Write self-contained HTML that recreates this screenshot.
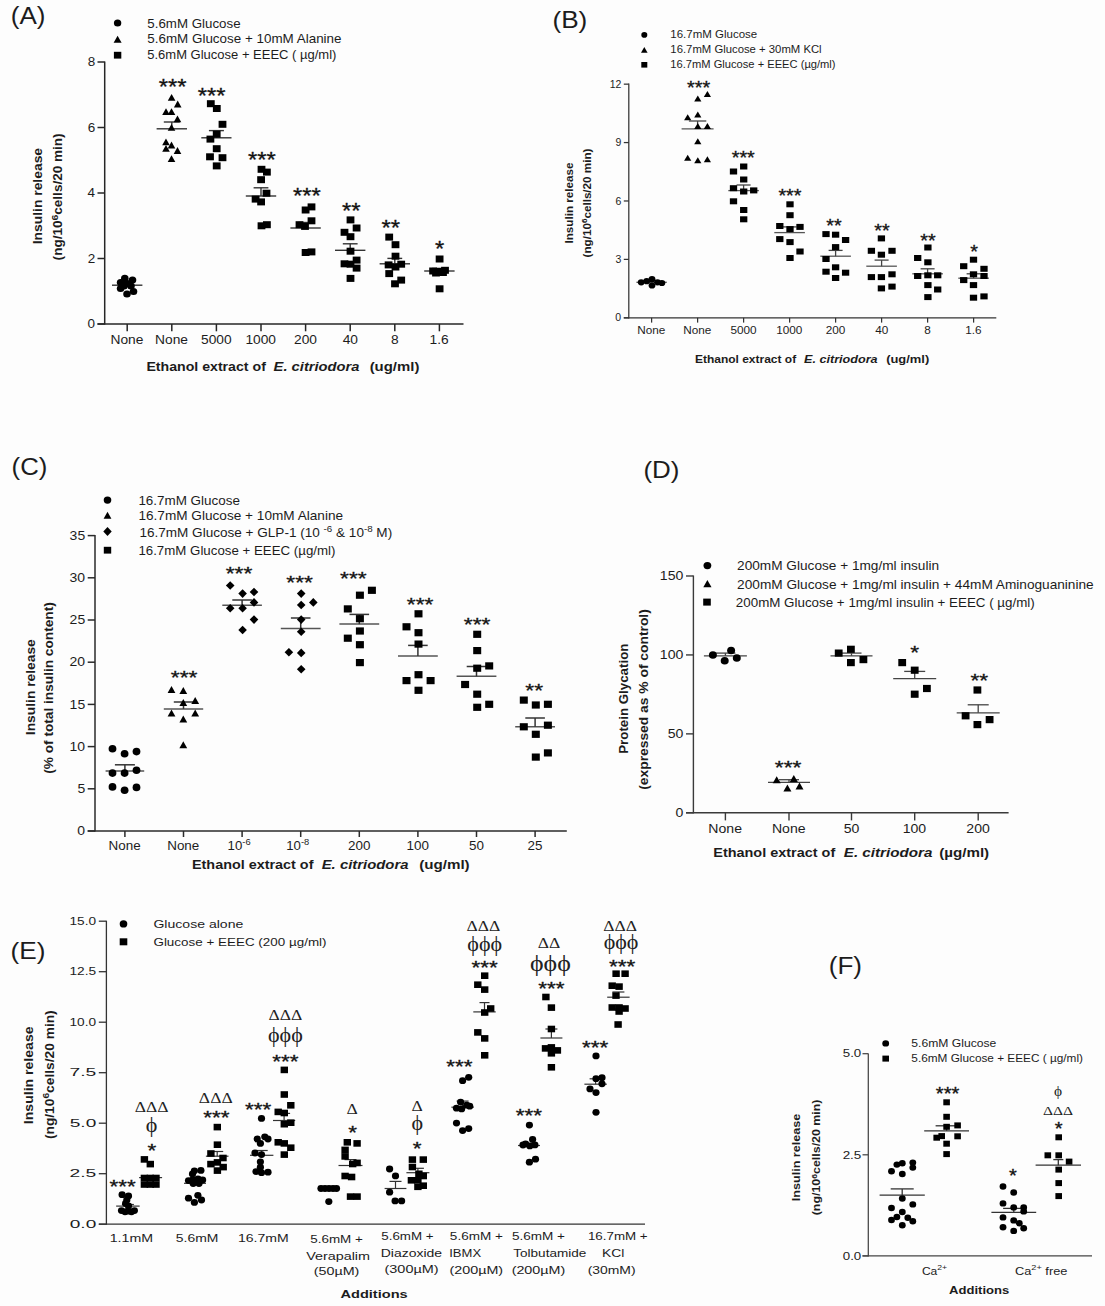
<!DOCTYPE html>
<html><head><meta charset="utf-8"><style>
html,body{margin:0;padding:0;background:#fdfdfd;}
svg{display:block;}
</style></head><body>
<svg width="1105" height="1306" viewBox="0 0 1105 1306">
<rect width="1105" height="1306" fill="#fdfdfd"/>
<line x1="112.00" y1="285.20" x2="142.40" y2="285.20" stroke="#333" stroke-width="1.4"/>
<line x1="127.20" y1="285.20" x2="127.20" y2="284.20" stroke="#333" stroke-width="1.4"/>
<line x1="120.20" y1="284.20" x2="134.20" y2="284.20" stroke="#333" stroke-width="1.4"/>
<line x1="156.60" y1="128.80" x2="187.00" y2="128.80" stroke="#333" stroke-width="1.4"/>
<line x1="171.80" y1="128.80" x2="171.80" y2="122.00" stroke="#333" stroke-width="1.4"/>
<line x1="163.80" y1="122.00" x2="179.80" y2="122.00" stroke="#333" stroke-width="1.4"/>
<line x1="201.30" y1="137.80" x2="231.50" y2="137.80" stroke="#333" stroke-width="1.4"/>
<line x1="216.40" y1="137.80" x2="216.40" y2="130.60" stroke="#333" stroke-width="1.4"/>
<line x1="208.90" y1="130.60" x2="223.90" y2="130.60" stroke="#333" stroke-width="1.4"/>
<line x1="245.80" y1="196.00" x2="276.20" y2="196.00" stroke="#333" stroke-width="1.4"/>
<line x1="261.00" y1="196.00" x2="261.00" y2="187.80" stroke="#333" stroke-width="1.4"/>
<line x1="253.60" y1="187.80" x2="268.40" y2="187.80" stroke="#333" stroke-width="1.4"/>
<line x1="290.40" y1="228.00" x2="320.80" y2="228.00" stroke="#333" stroke-width="1.4"/>
<line x1="305.60" y1="228.00" x2="305.60" y2="222.50" stroke="#333" stroke-width="1.4"/>
<line x1="298.20" y1="222.50" x2="313.00" y2="222.50" stroke="#333" stroke-width="1.4"/>
<line x1="335.00" y1="250.30" x2="365.40" y2="250.30" stroke="#333" stroke-width="1.4"/>
<line x1="350.20" y1="250.30" x2="350.20" y2="243.80" stroke="#333" stroke-width="1.4"/>
<line x1="342.80" y1="243.80" x2="357.60" y2="243.80" stroke="#333" stroke-width="1.4"/>
<line x1="379.60" y1="263.80" x2="410.00" y2="263.80" stroke="#333" stroke-width="1.4"/>
<line x1="394.80" y1="263.80" x2="394.80" y2="258.40" stroke="#333" stroke-width="1.4"/>
<line x1="387.40" y1="258.40" x2="402.20" y2="258.40" stroke="#333" stroke-width="1.4"/>
<line x1="424.20" y1="271.00" x2="454.60" y2="271.00" stroke="#333" stroke-width="1.4"/>
<line x1="439.40" y1="271.00" x2="439.40" y2="268.50" stroke="#333" stroke-width="1.4"/>
<line x1="432.00" y1="268.50" x2="446.80" y2="268.50" stroke="#333" stroke-width="1.4"/>
<line x1="636.40" y1="282.30" x2="666.80" y2="282.30" stroke="#555" stroke-width="1.3"/>
<line x1="681.60" y1="128.90" x2="713.60" y2="128.90" stroke="#555" stroke-width="1.3"/>
<line x1="697.60" y1="128.90" x2="697.60" y2="121.00" stroke="#444" stroke-width="1.3"/>
<line x1="688.90" y1="121.00" x2="706.30" y2="121.00" stroke="#444" stroke-width="1.3"/>
<line x1="728.30" y1="190.60" x2="758.90" y2="190.60" stroke="#555" stroke-width="1.3"/>
<line x1="743.60" y1="190.60" x2="743.60" y2="185.00" stroke="#444" stroke-width="1.3"/>
<line x1="736.60" y1="185.00" x2="750.60" y2="185.00" stroke="#444" stroke-width="1.3"/>
<line x1="774.30" y1="232.60" x2="804.90" y2="232.60" stroke="#555" stroke-width="1.3"/>
<line x1="789.60" y1="232.60" x2="789.60" y2="226.90" stroke="#444" stroke-width="1.3"/>
<line x1="782.60" y1="226.90" x2="796.60" y2="226.90" stroke="#444" stroke-width="1.3"/>
<line x1="820.30" y1="256.20" x2="850.90" y2="256.20" stroke="#555" stroke-width="1.3"/>
<line x1="835.60" y1="256.20" x2="835.60" y2="250.40" stroke="#444" stroke-width="1.3"/>
<line x1="828.60" y1="250.40" x2="842.60" y2="250.40" stroke="#444" stroke-width="1.3"/>
<line x1="866.30" y1="266.20" x2="896.90" y2="266.20" stroke="#555" stroke-width="1.3"/>
<line x1="881.60" y1="266.20" x2="881.60" y2="260.10" stroke="#444" stroke-width="1.3"/>
<line x1="874.60" y1="260.10" x2="888.60" y2="260.10" stroke="#444" stroke-width="1.3"/>
<line x1="912.30" y1="273.80" x2="942.90" y2="273.80" stroke="#555" stroke-width="1.3"/>
<line x1="927.60" y1="273.80" x2="927.60" y2="268.80" stroke="#444" stroke-width="1.3"/>
<line x1="920.60" y1="268.80" x2="934.60" y2="268.80" stroke="#444" stroke-width="1.3"/>
<line x1="958.30" y1="278.20" x2="988.90" y2="278.20" stroke="#555" stroke-width="1.3"/>
<line x1="973.60" y1="278.20" x2="973.60" y2="273.80" stroke="#444" stroke-width="1.3"/>
<line x1="966.60" y1="273.80" x2="980.60" y2="273.80" stroke="#444" stroke-width="1.3"/>
<line x1="105.60" y1="770.90" x2="144.20" y2="770.90" stroke="#555" stroke-width="1.5"/>
<line x1="124.90" y1="770.90" x2="124.90" y2="764.80" stroke="#333" stroke-width="1.5"/>
<line x1="114.90" y1="764.80" x2="134.90" y2="764.80" stroke="#333" stroke-width="1.5"/>
<line x1="163.80" y1="708.90" x2="203.20" y2="708.90" stroke="#555" stroke-width="1.5"/>
<line x1="183.50" y1="708.90" x2="183.50" y2="702.00" stroke="#333" stroke-width="1.5"/>
<line x1="173.80" y1="702.00" x2="193.20" y2="702.00" stroke="#333" stroke-width="1.5"/>
<line x1="222.30" y1="605.20" x2="261.90" y2="605.20" stroke="#555" stroke-width="1.5"/>
<line x1="242.10" y1="605.20" x2="242.10" y2="600.00" stroke="#333" stroke-width="1.5"/>
<line x1="232.30" y1="600.00" x2="251.90" y2="600.00" stroke="#333" stroke-width="1.5"/>
<line x1="280.80" y1="628.40" x2="320.60" y2="628.40" stroke="#555" stroke-width="1.5"/>
<line x1="300.70" y1="628.40" x2="300.70" y2="618.00" stroke="#333" stroke-width="1.5"/>
<line x1="290.90" y1="618.00" x2="310.50" y2="618.00" stroke="#333" stroke-width="1.5"/>
<line x1="339.40" y1="624.10" x2="379.20" y2="624.10" stroke="#555" stroke-width="1.5"/>
<line x1="359.30" y1="624.10" x2="359.30" y2="614.40" stroke="#333" stroke-width="1.5"/>
<line x1="349.50" y1="614.40" x2="369.10" y2="614.40" stroke="#333" stroke-width="1.5"/>
<line x1="398.00" y1="656.10" x2="437.80" y2="656.10" stroke="#555" stroke-width="1.5"/>
<line x1="417.90" y1="656.10" x2="417.90" y2="645.40" stroke="#333" stroke-width="1.5"/>
<line x1="408.10" y1="645.40" x2="427.70" y2="645.40" stroke="#333" stroke-width="1.5"/>
<line x1="456.60" y1="676.30" x2="496.40" y2="676.30" stroke="#555" stroke-width="1.5"/>
<line x1="476.50" y1="676.30" x2="476.50" y2="666.50" stroke="#333" stroke-width="1.5"/>
<line x1="466.70" y1="666.50" x2="486.30" y2="666.50" stroke="#333" stroke-width="1.5"/>
<line x1="515.20" y1="726.80" x2="555.00" y2="726.80" stroke="#555" stroke-width="1.5"/>
<line x1="535.10" y1="726.80" x2="535.10" y2="718.00" stroke="#333" stroke-width="1.5"/>
<line x1="525.30" y1="718.00" x2="544.90" y2="718.00" stroke="#333" stroke-width="1.5"/>
<line x1="703.90" y1="655.80" x2="746.90" y2="655.80" stroke="#444" stroke-width="1.3"/>
<line x1="725.40" y1="655.80" x2="725.40" y2="653.10" stroke="#444" stroke-width="1.3"/>
<line x1="715.40" y1="653.10" x2="735.40" y2="653.10" stroke="#444" stroke-width="1.3"/>
<line x1="768.00" y1="782.30" x2="810.00" y2="782.30" stroke="#444" stroke-width="1.3"/>
<line x1="789.00" y1="782.30" x2="789.00" y2="779.70" stroke="#444" stroke-width="1.3"/>
<line x1="779.00" y1="779.70" x2="799.00" y2="779.70" stroke="#444" stroke-width="1.3"/>
<line x1="830.50" y1="655.80" x2="872.50" y2="655.80" stroke="#444" stroke-width="1.3"/>
<line x1="851.50" y1="655.80" x2="851.50" y2="653.10" stroke="#444" stroke-width="1.3"/>
<line x1="841.50" y1="653.10" x2="861.50" y2="653.10" stroke="#444" stroke-width="1.3"/>
<line x1="893.20" y1="678.60" x2="936.20" y2="678.60" stroke="#444" stroke-width="1.3"/>
<line x1="914.70" y1="678.60" x2="914.70" y2="671.40" stroke="#444" stroke-width="1.3"/>
<line x1="904.20" y1="671.40" x2="925.20" y2="671.40" stroke="#444" stroke-width="1.3"/>
<line x1="956.70" y1="712.80" x2="999.70" y2="712.80" stroke="#444" stroke-width="1.3"/>
<line x1="978.20" y1="712.80" x2="978.20" y2="704.80" stroke="#444" stroke-width="1.3"/>
<line x1="967.70" y1="704.80" x2="988.70" y2="704.80" stroke="#444" stroke-width="1.3"/>
<line x1="116.15" y1="1206.10" x2="139.65" y2="1206.10" stroke="#333" stroke-width="1.2"/>
<line x1="127.90" y1="1206.10" x2="127.90" y2="1204.50" stroke="#333" stroke-width="1.2"/>
<line x1="121.90" y1="1204.50" x2="133.90" y2="1204.50" stroke="#333" stroke-width="1.2"/>
<line x1="139.10" y1="1177.60" x2="162.10" y2="1177.60" stroke="#333" stroke-width="1.2"/>
<line x1="150.60" y1="1177.60" x2="150.60" y2="1176.00" stroke="#333" stroke-width="1.2"/>
<line x1="144.60" y1="1176.00" x2="156.60" y2="1176.00" stroke="#333" stroke-width="1.2"/>
<line x1="184.00" y1="1183.30" x2="206.00" y2="1183.30" stroke="#333" stroke-width="1.2"/>
<line x1="205.90" y1="1156.20" x2="228.50" y2="1156.20" stroke="#333" stroke-width="1.2"/>
<line x1="217.20" y1="1156.20" x2="217.20" y2="1151.50" stroke="#333" stroke-width="1.2"/>
<line x1="211.20" y1="1151.50" x2="223.20" y2="1151.50" stroke="#333" stroke-width="1.2"/>
<line x1="250.00" y1="1155.30" x2="273.40" y2="1155.30" stroke="#333" stroke-width="1.2"/>
<line x1="261.70" y1="1155.30" x2="261.70" y2="1150.50" stroke="#333" stroke-width="1.2"/>
<line x1="255.70" y1="1150.50" x2="267.70" y2="1150.50" stroke="#333" stroke-width="1.2"/>
<line x1="273.00" y1="1120.50" x2="295.20" y2="1120.50" stroke="#333" stroke-width="1.2"/>
<line x1="284.10" y1="1120.50" x2="284.10" y2="1113.40" stroke="#333" stroke-width="1.2"/>
<line x1="278.10" y1="1113.40" x2="290.10" y2="1113.40" stroke="#333" stroke-width="1.2"/>
<line x1="317.90" y1="1188.50" x2="339.70" y2="1188.50" stroke="#333" stroke-width="1.2"/>
<line x1="338.50" y1="1165.50" x2="362.50" y2="1165.50" stroke="#333" stroke-width="1.2"/>
<line x1="350.50" y1="1165.50" x2="350.50" y2="1159.60" stroke="#333" stroke-width="1.2"/>
<line x1="344.50" y1="1159.60" x2="356.50" y2="1159.60" stroke="#333" stroke-width="1.2"/>
<line x1="384.60" y1="1188.50" x2="406.40" y2="1188.50" stroke="#333" stroke-width="1.2"/>
<line x1="395.50" y1="1188.50" x2="395.50" y2="1181.40" stroke="#333" stroke-width="1.2"/>
<line x1="389.50" y1="1181.40" x2="401.50" y2="1181.40" stroke="#333" stroke-width="1.2"/>
<line x1="406.40" y1="1172.70" x2="429.40" y2="1172.70" stroke="#333" stroke-width="1.2"/>
<line x1="417.90" y1="1172.70" x2="417.90" y2="1168.30" stroke="#333" stroke-width="1.2"/>
<line x1="411.90" y1="1168.30" x2="423.90" y2="1168.30" stroke="#333" stroke-width="1.2"/>
<line x1="451.40" y1="1107.20" x2="473.80" y2="1107.20" stroke="#333" stroke-width="1.2"/>
<line x1="462.60" y1="1107.20" x2="462.60" y2="1101.10" stroke="#333" stroke-width="1.2"/>
<line x1="456.60" y1="1101.10" x2="468.60" y2="1101.10" stroke="#333" stroke-width="1.2"/>
<line x1="473.30" y1="1011.90" x2="495.70" y2="1011.90" stroke="#333" stroke-width="1.2"/>
<line x1="484.50" y1="1011.90" x2="484.50" y2="1002.60" stroke="#333" stroke-width="1.2"/>
<line x1="479.50" y1="1002.60" x2="489.50" y2="1002.60" stroke="#333" stroke-width="1.2"/>
<line x1="518.00" y1="1145.50" x2="540.00" y2="1145.50" stroke="#333" stroke-width="1.2"/>
<line x1="540.40" y1="1038.00" x2="562.40" y2="1038.00" stroke="#333" stroke-width="1.2"/>
<line x1="551.40" y1="1038.00" x2="551.40" y2="1029.00" stroke="#333" stroke-width="1.2"/>
<line x1="545.40" y1="1029.00" x2="557.40" y2="1029.00" stroke="#333" stroke-width="1.2"/>
<line x1="584.40" y1="1084.20" x2="606.80" y2="1084.20" stroke="#333" stroke-width="1.2"/>
<line x1="595.60" y1="1084.20" x2="595.60" y2="1078.80" stroke="#333" stroke-width="1.2"/>
<line x1="589.60" y1="1078.80" x2="601.60" y2="1078.80" stroke="#333" stroke-width="1.2"/>
<line x1="607.20" y1="997.20" x2="629.60" y2="997.20" stroke="#333" stroke-width="1.2"/>
<line x1="618.40" y1="997.20" x2="618.40" y2="992.00" stroke="#333" stroke-width="1.2"/>
<line x1="612.40" y1="992.00" x2="624.40" y2="992.00" stroke="#333" stroke-width="1.2"/>
<line x1="879.60" y1="1195.10" x2="924.80" y2="1195.10" stroke="#333" stroke-width="1.3"/>
<line x1="902.20" y1="1195.10" x2="902.20" y2="1188.90" stroke="#333" stroke-width="1.3"/>
<line x1="890.70" y1="1188.90" x2="913.70" y2="1188.90" stroke="#333" stroke-width="1.3"/>
<line x1="924.20" y1="1130.80" x2="969.00" y2="1130.80" stroke="#333" stroke-width="1.3"/>
<line x1="946.60" y1="1130.80" x2="946.60" y2="1125.80" stroke="#333" stroke-width="1.3"/>
<line x1="935.60" y1="1125.80" x2="957.60" y2="1125.80" stroke="#333" stroke-width="1.3"/>
<line x1="991.40" y1="1212.40" x2="1036.20" y2="1212.40" stroke="#333" stroke-width="1.3"/>
<line x1="1013.80" y1="1212.40" x2="1013.80" y2="1208.40" stroke="#333" stroke-width="1.3"/>
<line x1="1003.10" y1="1208.40" x2="1024.50" y2="1208.40" stroke="#333" stroke-width="1.3"/>
<line x1="1035.60" y1="1165.20" x2="1081.00" y2="1165.20" stroke="#333" stroke-width="1.3"/>
<line x1="1058.30" y1="1165.20" x2="1058.30" y2="1159.60" stroke="#333" stroke-width="1.3"/>
<line x1="1053.30" y1="1159.60" x2="1063.30" y2="1159.60" stroke="#333" stroke-width="1.3"/>
<text transform="translate(10.74,23.90) scale(1.1319,1)" style="font-family:'Liberation Sans', sans-serif;font-size:23px;" fill="#1c1c1c">(A)</text>
<ellipse cx="117.60" cy="22.90" rx="3.7" ry="3.5" fill="#000"/>
<path d="M117.60,35.70L121.60,42.70L113.60,42.70Z" fill="#000"/>
<rect x="113.90" y="51.80" width="7.4" height="6.8" fill="#000"/>
<text transform="translate(147.27,27.60) scale(1.1111,1)" style="font-family:'Liberation Sans', sans-serif;font-size:12px;" fill="#1c1c1c">5.6mM Glucose</text>
<text transform="translate(147.26,43.40) scale(1.1196,1)" style="font-family:'Liberation Sans', sans-serif;font-size:12px;" fill="#1c1c1c">5.6mM Glucose + 10mM Alanine</text>
<text transform="translate(147.28,59.40) scale(1.0842,1)" style="font-family:'Liberation Sans', sans-serif;font-size:12px;" fill="#1c1c1c">5.6mM Glucose + EEEC ( µg/ml)</text>
<line x1="104.70" y1="61.50" x2="104.70" y2="324.60" stroke="#262626" stroke-width="1.5"/>
<line x1="97.50" y1="324.00" x2="463.50" y2="324.00" stroke="#262626" stroke-width="1.5"/>
<line x1="97.50" y1="324.00" x2="104.70" y2="324.00" stroke="#262626" stroke-width="1.5"/>
<text transform="translate(87.58,328.00) scale(1.0800,1)" style="font-family:'Liberation Sans', sans-serif;font-size:12.5px;" fill="#1c1c1c">0</text>
<line x1="97.50" y1="258.50" x2="104.70" y2="258.50" stroke="#262626" stroke-width="1.5"/>
<text transform="translate(87.78,262.50) scale(1.0800,1)" style="font-family:'Liberation Sans', sans-serif;font-size:12.5px;" fill="#1c1c1c">2</text>
<line x1="97.50" y1="193.00" x2="104.70" y2="193.00" stroke="#262626" stroke-width="1.5"/>
<text transform="translate(87.51,197.00) scale(1.0800,1)" style="font-family:'Liberation Sans', sans-serif;font-size:12.5px;" fill="#1c1c1c">4</text>
<line x1="97.50" y1="127.50" x2="104.70" y2="127.50" stroke="#262626" stroke-width="1.5"/>
<text transform="translate(87.65,131.50) scale(1.0800,1)" style="font-family:'Liberation Sans', sans-serif;font-size:12.5px;" fill="#1c1c1c">6</text>
<line x1="97.50" y1="62.00" x2="104.70" y2="62.00" stroke="#262626" stroke-width="1.5"/>
<text transform="translate(87.65,66.00) scale(1.0800,1)" style="font-family:'Liberation Sans', sans-serif;font-size:12.5px;" fill="#1c1c1c">8</text>
<line x1="127.20" y1="324.00" x2="127.20" y2="331.30" stroke="#262626" stroke-width="1.5"/>
<text transform="translate(110.48,344.20) scale(1.1300,1)" style="font-family:'Liberation Sans', sans-serif;font-size:12.2px;" fill="#1c1c1c">None</text>
<line x1="171.80" y1="324.00" x2="171.80" y2="331.30" stroke="#262626" stroke-width="1.5"/>
<text transform="translate(155.08,344.20) scale(1.1300,1)" style="font-family:'Liberation Sans', sans-serif;font-size:12.2px;" fill="#1c1c1c">None</text>
<line x1="216.40" y1="324.00" x2="216.40" y2="331.30" stroke="#262626" stroke-width="1.5"/>
<text transform="translate(201.03,344.20) scale(1.1300,1)" style="font-family:'Liberation Sans', sans-serif;font-size:12.2px;" fill="#1c1c1c">5000</text>
<line x1="261.00" y1="324.00" x2="261.00" y2="331.30" stroke="#262626" stroke-width="1.5"/>
<text transform="translate(245.39,344.20) scale(1.1300,1)" style="font-family:'Liberation Sans', sans-serif;font-size:12.2px;" fill="#1c1c1c">1000</text>
<line x1="305.60" y1="324.00" x2="305.60" y2="331.30" stroke="#262626" stroke-width="1.5"/>
<text transform="translate(294.02,344.20) scale(1.1300,1)" style="font-family:'Liberation Sans', sans-serif;font-size:12.2px;" fill="#1c1c1c">200</text>
<line x1="350.20" y1="324.00" x2="350.20" y2="331.30" stroke="#262626" stroke-width="1.5"/>
<text transform="translate(342.65,344.20) scale(1.1300,1)" style="font-family:'Liberation Sans', sans-serif;font-size:12.2px;" fill="#1c1c1c">40</text>
<line x1="394.80" y1="324.00" x2="394.80" y2="331.30" stroke="#262626" stroke-width="1.5"/>
<text transform="translate(390.94,344.20) scale(1.1300,1)" style="font-family:'Liberation Sans', sans-serif;font-size:12.2px;" fill="#1c1c1c">8</text>
<line x1="439.40" y1="324.00" x2="439.40" y2="331.30" stroke="#262626" stroke-width="1.5"/>
<text transform="translate(429.58,344.20) scale(1.1300,1)" style="font-family:'Liberation Sans', sans-serif;font-size:12.2px;" fill="#1c1c1c">1.6</text>
<text transform="translate(146.38,371.30) scale(1.1603,1)" style="font-family:'Liberation Sans', sans-serif;font-size:12.2px;font-weight:bold;" fill="#1c1c1c">Ethanol extract of</text>
<text transform="translate(273.61,371.30) scale(1.2086,1)" style="font-family:'Liberation Sans', sans-serif;font-size:12.2px;font-weight:bold;font-style:italic;" fill="#1c1c1c">E. citriodora</text>
<text transform="translate(369.65,371.30) scale(1.2238,1)" style="font-family:'Liberation Sans', sans-serif;font-size:12.2px;font-weight:bold;" fill="#1c1c1c">(ug/ml)</text>
<text transform="translate(41.60,196.10) rotate(-90)" text-anchor="middle" textLength="96.30" lengthAdjust="spacingAndGlyphs" style="font-family:'Liberation Sans', sans-serif;font-size:12.6px;font-weight:bold;" fill="#1c1c1c">Insulin release</text>
<text transform="translate(62.30,196.90) rotate(-90)" text-anchor="middle" textLength="127.00" lengthAdjust="spacingAndGlyphs" style="font-family:'Liberation Sans', sans-serif;font-size:12.4px;font-weight:bold;" fill="#1c1c1c">(ng/10<tspan dy="-4.5" style="font-size:9.5px">6</tspan><tspan dy="4.5">cells/20 min)</tspan></text>
<ellipse cx="124.80" cy="278.40" rx="3.8" ry="3.6" fill="#000"/>
<ellipse cx="132.50" cy="280.00" rx="3.8" ry="3.6" fill="#000"/>
<ellipse cx="120.60" cy="282.60" rx="3.8" ry="3.6" fill="#000"/>
<ellipse cx="127.50" cy="283.50" rx="3.8" ry="3.6" fill="#000"/>
<ellipse cx="120.60" cy="288.50" rx="3.8" ry="3.6" fill="#000"/>
<ellipse cx="133.50" cy="291.50" rx="3.8" ry="3.6" fill="#000"/>
<ellipse cx="127.00" cy="294.00" rx="3.8" ry="3.6" fill="#000"/>
<ellipse cx="124.00" cy="286.00" rx="3.8" ry="3.6" fill="#000"/>
<ellipse cx="131.00" cy="286.00" rx="3.8" ry="3.6" fill="#000"/>
<path d="M171.60,94.00L175.40,100.80L167.80,100.80Z" fill="#000"/>
<path d="M177.70,100.60L181.50,107.40L173.90,107.40Z" fill="#000"/>
<path d="M166.00,108.20L169.80,115.00L162.20,115.00Z" fill="#000"/>
<path d="M171.50,108.20L175.30,115.00L167.70,115.00Z" fill="#000"/>
<path d="M177.50,115.40L181.30,122.20L173.70,122.20Z" fill="#000"/>
<path d="M171.50,123.90L175.30,130.70L167.70,130.70Z" fill="#000"/>
<path d="M166.00,138.40L169.80,145.20L162.20,145.20Z" fill="#000"/>
<path d="M171.50,141.60L175.30,148.40L167.70,148.40Z" fill="#000"/>
<path d="M166.00,144.90L169.80,151.70L162.20,151.70Z" fill="#000"/>
<path d="M177.50,147.10L181.30,153.90L173.70,153.90Z" fill="#000"/>
<path d="M171.50,155.20L175.30,162.00L167.70,162.00Z" fill="#000"/>
<text transform="translate(158.70,93.94) scale(1.0800,1)" style="font-family:'Liberation Sans', sans-serif;font-size:22px;stroke:#111;stroke-width:0.3px;" fill="#111">***</text>
<rect x="206.90" y="100.20" width="7.8" height="7.0" fill="#000"/>
<rect x="212.90" y="105.00" width="7.8" height="7.0" fill="#000"/>
<rect x="218.60" y="120.80" width="7.8" height="7.0" fill="#000"/>
<rect x="212.80" y="130.70" width="7.8" height="7.0" fill="#000"/>
<rect x="206.50" y="135.60" width="7.8" height="7.0" fill="#000"/>
<rect x="212.80" y="145.20" width="7.8" height="7.0" fill="#000"/>
<rect x="206.10" y="153.30" width="7.8" height="7.0" fill="#000"/>
<rect x="218.60" y="154.20" width="7.8" height="7.0" fill="#000"/>
<rect x="212.80" y="162.40" width="7.8" height="7.0" fill="#000"/>
<text transform="translate(197.70,102.94) scale(1.0800,1)" style="font-family:'Liberation Sans', sans-serif;font-size:22px;stroke:#111;stroke-width:0.3px;" fill="#111">***</text>
<rect x="257.60" y="165.80" width="7.8" height="7.0" fill="#000"/>
<rect x="263.00" y="168.60" width="7.8" height="7.0" fill="#000"/>
<rect x="257.20" y="176.20" width="7.8" height="7.0" fill="#000"/>
<rect x="262.60" y="189.70" width="7.8" height="7.0" fill="#000"/>
<rect x="251.70" y="195.60" width="7.8" height="7.0" fill="#000"/>
<rect x="257.20" y="198.40" width="7.8" height="7.0" fill="#000"/>
<rect x="257.60" y="222.30" width="7.8" height="7.0" fill="#000"/>
<rect x="263.00" y="221.20" width="7.8" height="7.0" fill="#000"/>
<text transform="translate(248.10,167.04) scale(1.0800,1)" style="font-family:'Liberation Sans', sans-serif;font-size:22px;stroke:#111;stroke-width:0.3px;" fill="#111">***</text>
<rect x="307.60" y="203.40" width="7.8" height="7.0" fill="#000"/>
<rect x="301.70" y="206.50" width="7.8" height="7.0" fill="#000"/>
<rect x="307.60" y="217.30" width="7.8" height="7.0" fill="#000"/>
<rect x="295.60" y="221.20" width="7.8" height="7.0" fill="#000"/>
<rect x="301.10" y="222.90" width="7.8" height="7.0" fill="#000"/>
<rect x="301.70" y="249.00" width="7.8" height="7.0" fill="#000"/>
<rect x="307.60" y="248.40" width="7.8" height="7.0" fill="#000"/>
<text transform="translate(293.10,203.14) scale(1.0800,1)" style="font-family:'Liberation Sans', sans-serif;font-size:22px;stroke:#111;stroke-width:0.3px;" fill="#111">***</text>
<rect x="346.60" y="216.40" width="7.8" height="7.0" fill="#000"/>
<rect x="352.70" y="224.50" width="7.8" height="7.0" fill="#000"/>
<rect x="340.60" y="228.80" width="7.8" height="7.0" fill="#000"/>
<rect x="346.60" y="233.20" width="7.8" height="7.0" fill="#000"/>
<rect x="346.60" y="247.70" width="7.8" height="7.0" fill="#000"/>
<rect x="352.70" y="256.60" width="7.8" height="7.0" fill="#000"/>
<rect x="340.60" y="260.30" width="7.8" height="7.0" fill="#000"/>
<rect x="346.60" y="260.70" width="7.8" height="7.0" fill="#000"/>
<rect x="352.70" y="264.60" width="7.8" height="7.0" fill="#000"/>
<rect x="346.60" y="274.90" width="7.8" height="7.0" fill="#000"/>
<text transform="translate(341.93,217.64) scale(1.0800,1)" style="font-family:'Liberation Sans', sans-serif;font-size:22px;stroke:#111;stroke-width:0.3px;" fill="#111">**</text>
<rect x="385.30" y="233.60" width="7.8" height="7.0" fill="#000"/>
<rect x="391.60" y="241.20" width="7.8" height="7.0" fill="#000"/>
<rect x="391.60" y="252.70" width="7.8" height="7.0" fill="#000"/>
<rect x="384.70" y="261.40" width="7.8" height="7.0" fill="#000"/>
<rect x="397.30" y="260.70" width="7.8" height="7.0" fill="#000"/>
<rect x="391.60" y="263.50" width="7.8" height="7.0" fill="#000"/>
<rect x="385.30" y="270.10" width="7.8" height="7.0" fill="#000"/>
<rect x="397.30" y="276.60" width="7.8" height="7.0" fill="#000"/>
<rect x="391.10" y="280.30" width="7.8" height="7.0" fill="#000"/>
<text transform="translate(381.43,234.64) scale(1.0800,1)" style="font-family:'Liberation Sans', sans-serif;font-size:22px;stroke:#111;stroke-width:0.3px;" fill="#111">**</text>
<rect x="435.70" y="255.50" width="7.8" height="7.0" fill="#000"/>
<rect x="429.20" y="267.50" width="7.8" height="7.0" fill="#000"/>
<rect x="435.70" y="267.90" width="7.8" height="7.0" fill="#000"/>
<rect x="441.10" y="266.80" width="7.8" height="7.0" fill="#000"/>
<rect x="435.70" y="285.30" width="7.8" height="7.0" fill="#000"/>
<rect x="432.10" y="269.50" width="7.8" height="7.0" fill="#000"/>
<rect x="439.10" y="269.00" width="7.8" height="7.0" fill="#000"/>
<text transform="translate(434.97,256.14) scale(1.0800,1)" style="font-family:'Liberation Sans', sans-serif;font-size:22px;stroke:#111;stroke-width:0.3px;" fill="#111">*</text>
<text transform="translate(552.43,27.70) scale(1.1148,1)" style="font-family:'Liberation Sans', sans-serif;font-size:23.5px;" fill="#1c1c1c">(B)</text>
<ellipse cx="644.30" cy="34.90" rx="3.0" ry="2.8" fill="#000"/>
<path d="M644.30,46.90L647.60,52.70L641.00,52.70Z" fill="#000"/>
<rect x="641.30" y="62.00" width="6.0" height="5.6" fill="#000"/>
<text transform="translate(670.34,38.30) scale(1.1505,1)" style="font-family:'Liberation Sans', sans-serif;font-size:10px;" fill="#1c1c1c">16.7mM Glucose</text>
<text transform="translate(670.35,53.20) scale(1.1335,1)" style="font-family:'Liberation Sans', sans-serif;font-size:10px;" fill="#1c1c1c">16.7mM Glucose + 30mM KCl</text>
<text transform="translate(670.36,68.20) scale(1.1153,1)" style="font-family:'Liberation Sans', sans-serif;font-size:10px;" fill="#1c1c1c">16.7mM Glucose + EEEC (µg/ml)</text>
<line x1="628.80" y1="83.50" x2="628.80" y2="318.40" stroke="#333" stroke-width="1.25"/>
<line x1="623.80" y1="317.80" x2="996.30" y2="317.80" stroke="#333" stroke-width="1.25"/>
<line x1="623.80" y1="317.80" x2="628.80" y2="317.80" stroke="#333" stroke-width="1.25"/>
<text transform="translate(615.34,321.40) scale(1.0500,1)" style="font-family:'Liberation Sans', sans-serif;font-size:10px;" fill="#1c1c1c">0</text>
<line x1="623.80" y1="259.39" x2="628.80" y2="259.39" stroke="#333" stroke-width="1.25"/>
<text transform="translate(615.39,262.99) scale(1.0500,1)" style="font-family:'Liberation Sans', sans-serif;font-size:10px;" fill="#1c1c1c">3</text>
<line x1="623.80" y1="200.98" x2="628.80" y2="200.98" stroke="#333" stroke-width="1.25"/>
<text transform="translate(615.39,204.58) scale(1.0500,1)" style="font-family:'Liberation Sans', sans-serif;font-size:10px;" fill="#1c1c1c">6</text>
<line x1="623.80" y1="142.57" x2="628.80" y2="142.57" stroke="#333" stroke-width="1.25"/>
<text transform="translate(615.44,146.17) scale(1.0500,1)" style="font-family:'Liberation Sans', sans-serif;font-size:10px;" fill="#1c1c1c">9</text>
<line x1="623.80" y1="84.16" x2="628.80" y2="84.16" stroke="#333" stroke-width="1.25"/>
<text transform="translate(609.67,87.76) scale(1.0500,1)" style="font-family:'Liberation Sans', sans-serif;font-size:10px;" fill="#1c1c1c">12</text>
<line x1="651.60" y1="317.80" x2="651.60" y2="322.60" stroke="#333" stroke-width="1.25"/>
<text transform="translate(637.34,334.30) scale(1.1200,1)" style="font-family:'Liberation Sans', sans-serif;font-size:10.5px;" fill="#1c1c1c">None</text>
<line x1="697.60" y1="317.80" x2="697.60" y2="322.60" stroke="#333" stroke-width="1.25"/>
<text transform="translate(683.34,334.30) scale(1.1200,1)" style="font-family:'Liberation Sans', sans-serif;font-size:10.5px;" fill="#1c1c1c">None</text>
<line x1="743.60" y1="317.80" x2="743.60" y2="322.60" stroke="#333" stroke-width="1.25"/>
<text transform="translate(730.49,334.30) scale(1.1200,1)" style="font-family:'Liberation Sans', sans-serif;font-size:10.5px;" fill="#1c1c1c">5000</text>
<line x1="789.60" y1="317.80" x2="789.60" y2="322.60" stroke="#333" stroke-width="1.25"/>
<text transform="translate(776.28,334.30) scale(1.1200,1)" style="font-family:'Liberation Sans', sans-serif;font-size:10.5px;" fill="#1c1c1c">1000</text>
<line x1="835.60" y1="317.80" x2="835.60" y2="322.60" stroke="#333" stroke-width="1.25"/>
<text transform="translate(825.72,334.30) scale(1.1200,1)" style="font-family:'Liberation Sans', sans-serif;font-size:10.5px;" fill="#1c1c1c">200</text>
<line x1="881.60" y1="317.80" x2="881.60" y2="322.60" stroke="#333" stroke-width="1.25"/>
<text transform="translate(875.16,334.30) scale(1.1200,1)" style="font-family:'Liberation Sans', sans-serif;font-size:10.5px;" fill="#1c1c1c">40</text>
<line x1="927.60" y1="317.80" x2="927.60" y2="322.60" stroke="#333" stroke-width="1.25"/>
<text transform="translate(924.31,334.30) scale(1.1200,1)" style="font-family:'Liberation Sans', sans-serif;font-size:10.5px;" fill="#1c1c1c">8</text>
<line x1="973.60" y1="317.80" x2="973.60" y2="322.60" stroke="#333" stroke-width="1.25"/>
<text transform="translate(965.22,334.30) scale(1.1200,1)" style="font-family:'Liberation Sans', sans-serif;font-size:10.5px;" fill="#1c1c1c">1.6</text>
<text transform="translate(694.92,363.20) scale(1.0712,1)" style="font-family:'Liberation Sans', sans-serif;font-size:11.2px;font-weight:bold;" fill="#1c1c1c">Ethanol extract of</text>
<text transform="translate(804.05,363.20) scale(1.1267,1)" style="font-family:'Liberation Sans', sans-serif;font-size:11.2px;font-weight:bold;font-style:italic;" fill="#1c1c1c">E. citriodora</text>
<text transform="translate(886.15,363.20) scale(1.1564,1)" style="font-family:'Liberation Sans', sans-serif;font-size:11.2px;font-weight:bold;" fill="#1c1c1c">(ug/ml)</text>
<text transform="translate(572.90,203.00) rotate(-90)" text-anchor="middle" textLength="81.00" lengthAdjust="spacingAndGlyphs" style="font-family:'Liberation Sans', sans-serif;font-size:11px;font-weight:bold;" fill="#1c1c1c">Insulin release</text>
<text transform="translate(590.50,203.00) rotate(-90)" text-anchor="middle" textLength="109.00" lengthAdjust="spacingAndGlyphs" style="font-family:'Liberation Sans', sans-serif;font-size:10.8px;font-weight:bold;" fill="#1c1c1c">(ng/10<tspan dy="-3.5" style="font-size:7.5px">6</tspan><tspan dy="3.5">cells/20 min)</tspan></text>
<ellipse cx="641.20" cy="282.30" rx="3.4" ry="3.1" fill="#000"/>
<ellipse cx="646.70" cy="281.20" rx="3.4" ry="3.1" fill="#000"/>
<ellipse cx="652.00" cy="279.20" rx="3.4" ry="3.1" fill="#000"/>
<ellipse cx="652.00" cy="285.50" rx="3.4" ry="3.1" fill="#000"/>
<ellipse cx="657.50" cy="282.30" rx="3.4" ry="3.1" fill="#000"/>
<ellipse cx="661.90" cy="283.00" rx="3.4" ry="3.1" fill="#000"/>
<path d="M707.40,91.10L711.00,97.10L703.80,97.10Z" fill="#000"/>
<path d="M697.80,95.50L701.40,101.50L694.20,101.50Z" fill="#000"/>
<path d="M687.70,114.30L691.30,120.30L684.10,120.30Z" fill="#000"/>
<path d="M697.80,111.40L701.40,117.40L694.20,117.40Z" fill="#000"/>
<path d="M697.80,123.00L701.40,129.00L694.20,129.00Z" fill="#000"/>
<path d="M707.40,123.00L711.00,129.00L703.80,129.00Z" fill="#000"/>
<path d="M697.80,138.30L701.40,144.30L694.20,144.30Z" fill="#000"/>
<path d="M687.70,154.80L691.30,160.80L684.10,160.80Z" fill="#000"/>
<path d="M697.80,157.20L701.40,163.20L694.20,163.20Z" fill="#000"/>
<path d="M707.40,156.30L711.00,162.30L703.80,162.30Z" fill="#000"/>
<rect x="740.05" y="163.50" width="7.3" height="6.0" fill="#000"/>
<rect x="729.85" y="168.50" width="7.3" height="6.0" fill="#000"/>
<rect x="740.05" y="176.50" width="7.3" height="6.0" fill="#000"/>
<rect x="729.85" y="185.20" width="7.3" height="6.0" fill="#000"/>
<rect x="740.05" y="188.50" width="7.3" height="6.0" fill="#000"/>
<rect x="750.05" y="187.40" width="7.3" height="6.0" fill="#000"/>
<rect x="729.85" y="198.30" width="7.3" height="6.0" fill="#000"/>
<rect x="740.05" y="207.00" width="7.3" height="6.0" fill="#000"/>
<rect x="740.05" y="216.30" width="7.3" height="6.0" fill="#000"/>
<text transform="translate(731.72,164.16) scale(1.1000,1)" style="font-family:'Liberation Sans', sans-serif;font-size:18px;stroke:#111;stroke-width:0.3px;" fill="#111">***</text>
<rect x="786.35" y="201.30" width="7.3" height="6.0" fill="#000"/>
<rect x="786.35" y="212.20" width="7.3" height="6.0" fill="#000"/>
<rect x="776.15" y="223.00" width="7.3" height="6.0" fill="#000"/>
<rect x="786.35" y="226.10" width="7.3" height="6.0" fill="#000"/>
<rect x="796.35" y="223.90" width="7.3" height="6.0" fill="#000"/>
<rect x="776.15" y="236.10" width="7.3" height="6.0" fill="#000"/>
<rect x="786.35" y="239.10" width="7.3" height="6.0" fill="#000"/>
<rect x="796.35" y="248.50" width="7.3" height="6.0" fill="#000"/>
<rect x="786.35" y="255.00" width="7.3" height="6.0" fill="#000"/>
<text transform="translate(778.42,202.16) scale(1.1000,1)" style="font-family:'Liberation Sans', sans-serif;font-size:18px;stroke:#111;stroke-width:0.3px;" fill="#111">***</text>
<rect x="822.35" y="231.10" width="7.3" height="6.0" fill="#000"/>
<rect x="831.95" y="231.70" width="7.3" height="6.0" fill="#000"/>
<rect x="841.95" y="237.00" width="7.3" height="6.0" fill="#000"/>
<rect x="831.95" y="244.10" width="7.3" height="6.0" fill="#000"/>
<rect x="822.35" y="256.00" width="7.3" height="6.0" fill="#000"/>
<rect x="831.95" y="264.30" width="7.3" height="6.0" fill="#000"/>
<rect x="822.35" y="268.70" width="7.3" height="6.0" fill="#000"/>
<rect x="841.95" y="269.70" width="7.3" height="6.0" fill="#000"/>
<rect x="831.95" y="275.00" width="7.3" height="6.0" fill="#000"/>
<text transform="translate(826.28,232.16) scale(1.1000,1)" style="font-family:'Liberation Sans', sans-serif;font-size:18px;stroke:#111;stroke-width:0.3px;" fill="#111">**</text>
<rect x="877.75" y="235.40" width="7.3" height="6.0" fill="#000"/>
<rect x="867.75" y="247.80" width="7.3" height="6.0" fill="#000"/>
<rect x="888.35" y="247.80" width="7.3" height="6.0" fill="#000"/>
<rect x="877.75" y="251.70" width="7.3" height="6.0" fill="#000"/>
<rect x="867.75" y="274.10" width="7.3" height="6.0" fill="#000"/>
<rect x="877.75" y="274.10" width="7.3" height="6.0" fill="#000"/>
<rect x="888.35" y="271.30" width="7.3" height="6.0" fill="#000"/>
<rect x="877.75" y="285.40" width="7.3" height="6.0" fill="#000"/>
<rect x="888.35" y="283.60" width="7.3" height="6.0" fill="#000"/>
<text transform="translate(874.18,236.96) scale(1.1000,1)" style="font-family:'Liberation Sans', sans-serif;font-size:18px;stroke:#111;stroke-width:0.3px;" fill="#111">**</text>
<rect x="924.25" y="244.50" width="7.3" height="6.0" fill="#000"/>
<rect x="914.05" y="255.00" width="7.3" height="6.0" fill="#000"/>
<rect x="924.25" y="259.30" width="7.3" height="6.0" fill="#000"/>
<rect x="914.05" y="273.00" width="7.3" height="6.0" fill="#000"/>
<rect x="924.25" y="272.30" width="7.3" height="6.0" fill="#000"/>
<rect x="934.05" y="272.30" width="7.3" height="6.0" fill="#000"/>
<rect x="924.25" y="282.10" width="7.3" height="6.0" fill="#000"/>
<rect x="934.05" y="286.50" width="7.3" height="6.0" fill="#000"/>
<rect x="924.25" y="294.10" width="7.3" height="6.0" fill="#000"/>
<text transform="translate(920.18,247.36) scale(1.1000,1)" style="font-family:'Liberation Sans', sans-serif;font-size:18px;stroke:#111;stroke-width:0.3px;" fill="#111">**</text>
<rect x="969.85" y="256.70" width="7.3" height="6.0" fill="#000"/>
<rect x="960.05" y="263.20" width="7.3" height="6.0" fill="#000"/>
<rect x="980.35" y="265.80" width="7.3" height="6.0" fill="#000"/>
<rect x="969.85" y="271.30" width="7.3" height="6.0" fill="#000"/>
<rect x="980.35" y="273.00" width="7.3" height="6.0" fill="#000"/>
<rect x="960.05" y="277.10" width="7.3" height="6.0" fill="#000"/>
<rect x="969.85" y="282.10" width="7.3" height="6.0" fill="#000"/>
<rect x="969.85" y="294.70" width="7.3" height="6.0" fill="#000"/>
<rect x="980.35" y="293.40" width="7.3" height="6.0" fill="#000"/>
<text transform="translate(970.34,257.96) scale(1.1000,1)" style="font-family:'Liberation Sans', sans-serif;font-size:18px;stroke:#111;stroke-width:0.3px;" fill="#111">*</text>
<text transform="translate(687.12,93.86) scale(1.1000,1)" style="font-family:'Liberation Sans', sans-serif;font-size:18px;stroke:#111;stroke-width:0.3px;" fill="#111">***</text>
<text transform="translate(11.55,474.60) scale(1.0966,1)" style="font-family:'Liberation Sans', sans-serif;font-size:23.5px;" fill="#1c1c1c">(C)</text>
<ellipse cx="107.50" cy="500.10" rx="3.8" ry="3.6" fill="#000"/>
<path d="M107.50,511.80L111.40,518.80L103.60,518.80Z" fill="#000"/>
<path d="M107.50,527.10L111.70,531.50L107.50,535.90L103.30,531.50Z" fill="#000"/>
<rect x="103.80" y="546.80" width="7.4" height="6.8" fill="#000"/>
<text transform="translate(138.39,504.70) scale(1.0742,1)" style="font-family:'Liberation Sans', sans-serif;font-size:12.5px;" fill="#1c1c1c">16.7mM Glucose</text>
<text transform="translate(138.38,520.30) scale(1.0904,1)" style="font-family:'Liberation Sans', sans-serif;font-size:12.5px;" fill="#1c1c1c">16.7mM Glucose + 10mM Alanine</text>
<text transform="translate(139.4,537.1) scale(1.1,1)" style="font-family:'Liberation Sans', sans-serif;font-size:12.5px;" fill="#1c1c1c" textLength="229.8" lengthAdjust="spacingAndGlyphs">16.7mM Glucose + GLP-1 (10 <tspan dy="-5" style="font-size:9px">-6</tspan><tspan dy="5"> &amp; 10</tspan><tspan dy="-5" style="font-size:9px">-8</tspan><tspan dy="5"> M)</tspan></text>
<text transform="translate(138.40,554.50) scale(1.0643,1)" style="font-family:'Liberation Sans', sans-serif;font-size:12.5px;" fill="#1c1c1c">16.7mM Glucose + EEEC (µg/ml)</text>
<line x1="95.00" y1="535.00" x2="95.00" y2="831.60" stroke="#2a2a2a" stroke-width="1.5"/>
<line x1="87.70" y1="831.00" x2="566.80" y2="831.00" stroke="#2a2a2a" stroke-width="1.5"/>
<line x1="87.70" y1="831.00" x2="95.00" y2="831.00" stroke="#2a2a2a" stroke-width="1.5"/>
<text transform="translate(77.32,835.10) scale(1.1200,1)" style="font-family:'Liberation Sans', sans-serif;font-size:12.5px;" fill="#1c1c1c">0</text>
<line x1="87.70" y1="788.80" x2="95.00" y2="788.80" stroke="#2a2a2a" stroke-width="1.5"/>
<text transform="translate(77.39,792.90) scale(1.1200,1)" style="font-family:'Liberation Sans', sans-serif;font-size:12.5px;" fill="#1c1c1c">5</text>
<line x1="87.70" y1="746.60" x2="95.00" y2="746.60" stroke="#2a2a2a" stroke-width="1.5"/>
<text transform="translate(69.55,750.70) scale(1.1200,1)" style="font-family:'Liberation Sans', sans-serif;font-size:12.5px;" fill="#1c1c1c">10</text>
<line x1="87.70" y1="704.40" x2="95.00" y2="704.40" stroke="#2a2a2a" stroke-width="1.5"/>
<text transform="translate(69.62,708.50) scale(1.1200,1)" style="font-family:'Liberation Sans', sans-serif;font-size:12.5px;" fill="#1c1c1c">15</text>
<line x1="87.70" y1="662.20" x2="95.00" y2="662.20" stroke="#2a2a2a" stroke-width="1.5"/>
<text transform="translate(69.55,666.30) scale(1.1200,1)" style="font-family:'Liberation Sans', sans-serif;font-size:12.5px;" fill="#1c1c1c">20</text>
<line x1="87.70" y1="620.00" x2="95.00" y2="620.00" stroke="#2a2a2a" stroke-width="1.5"/>
<text transform="translate(69.62,624.10) scale(1.1200,1)" style="font-family:'Liberation Sans', sans-serif;font-size:12.5px;" fill="#1c1c1c">25</text>
<line x1="87.70" y1="577.80" x2="95.00" y2="577.80" stroke="#2a2a2a" stroke-width="1.5"/>
<text transform="translate(69.55,581.90) scale(1.1200,1)" style="font-family:'Liberation Sans', sans-serif;font-size:12.5px;" fill="#1c1c1c">30</text>
<line x1="87.70" y1="535.60" x2="95.00" y2="535.60" stroke="#2a2a2a" stroke-width="1.5"/>
<text transform="translate(69.62,539.70) scale(1.1200,1)" style="font-family:'Liberation Sans', sans-serif;font-size:12.5px;" fill="#1c1c1c">35</text>
<line x1="124.90" y1="831.00" x2="124.90" y2="837.00" stroke="#2a2a2a" stroke-width="1.5"/>
<line x1="183.50" y1="831.00" x2="183.50" y2="837.00" stroke="#2a2a2a" stroke-width="1.5"/>
<line x1="242.10" y1="831.00" x2="242.10" y2="837.00" stroke="#2a2a2a" stroke-width="1.5"/>
<line x1="300.70" y1="831.00" x2="300.70" y2="837.00" stroke="#2a2a2a" stroke-width="1.5"/>
<line x1="359.30" y1="831.00" x2="359.30" y2="837.00" stroke="#2a2a2a" stroke-width="1.5"/>
<line x1="417.90" y1="831.00" x2="417.90" y2="837.00" stroke="#2a2a2a" stroke-width="1.5"/>
<line x1="476.50" y1="831.00" x2="476.50" y2="837.00" stroke="#2a2a2a" stroke-width="1.5"/>
<line x1="535.10" y1="831.00" x2="535.10" y2="837.00" stroke="#2a2a2a" stroke-width="1.5"/>
<text transform="translate(108.60,850.20) scale(1.1200,1)" style="font-family:'Liberation Sans', sans-serif;font-size:12px;" fill="#1c1c1c">None</text>
<text transform="translate(167.20,850.20) scale(1.1200,1)" style="font-family:'Liberation Sans', sans-serif;font-size:12px;" fill="#1c1c1c">None</text>
<text transform="translate(239.10,850.2) scale(1.1,1)" text-anchor="middle" style="font-family:'Liberation Sans', sans-serif;font-size:12px;" fill="#1c1c1c">10<tspan dy="-5" style="font-size:8.5px">-6</tspan></text>
<text transform="translate(297.70,850.2) scale(1.1,1)" text-anchor="middle" style="font-family:'Liberation Sans', sans-serif;font-size:12px;" fill="#1c1c1c">10<tspan dy="-5" style="font-size:8.5px">-8</tspan></text>
<text transform="translate(348.01,850.20) scale(1.1200,1)" style="font-family:'Liberation Sans', sans-serif;font-size:12px;" fill="#1c1c1c">200</text>
<text transform="translate(406.44,850.20) scale(1.1200,1)" style="font-family:'Liberation Sans', sans-serif;font-size:12px;" fill="#1c1c1c">100</text>
<text transform="translate(469.01,850.20) scale(1.1200,1)" style="font-family:'Liberation Sans', sans-serif;font-size:12px;" fill="#1c1c1c">50</text>
<text transform="translate(527.57,850.20) scale(1.1200,1)" style="font-family:'Liberation Sans', sans-serif;font-size:12px;" fill="#1c1c1c">25</text>
<text transform="translate(191.96,869.40) scale(1.1516,1)" style="font-family:'Liberation Sans', sans-serif;font-size:12.5px;font-weight:bold;" fill="#1c1c1c">Ethanol extract of</text>
<text transform="translate(321.70,869.40) scale(1.1907,1)" style="font-family:'Liberation Sans', sans-serif;font-size:12.5px;font-weight:bold;font-style:italic;" fill="#1c1c1c">E. citriodora</text>
<text transform="translate(419.14,869.40) scale(1.2142,1)" style="font-family:'Liberation Sans', sans-serif;font-size:12.5px;font-weight:bold;" fill="#1c1c1c">(ug/ml)</text>
<text transform="translate(34.90,687.20) rotate(-90)" text-anchor="middle" textLength="96.00" lengthAdjust="spacingAndGlyphs" style="font-family:'Liberation Sans', sans-serif;font-size:12.8px;font-weight:bold;" fill="#1c1c1c">Insulin release</text>
<text transform="translate(53.00,688.00) rotate(-90)" text-anchor="middle" textLength="171.50" lengthAdjust="spacingAndGlyphs" style="font-family:'Liberation Sans', sans-serif;font-size:12.5px;font-weight:bold;" fill="#1c1c1c">(% of total  insulin content)</text>
<ellipse cx="112.50" cy="748.80" rx="3.9" ry="3.8" fill="#000"/>
<ellipse cx="124.60" cy="753.80" rx="3.9" ry="3.8" fill="#000"/>
<ellipse cx="136.50" cy="751.60" rx="3.9" ry="3.8" fill="#000"/>
<ellipse cx="112.50" cy="773.10" rx="3.9" ry="3.8" fill="#000"/>
<ellipse cx="124.60" cy="773.10" rx="3.9" ry="3.8" fill="#000"/>
<ellipse cx="136.50" cy="770.30" rx="3.9" ry="3.8" fill="#000"/>
<ellipse cx="112.50" cy="786.90" rx="3.9" ry="3.8" fill="#000"/>
<ellipse cx="124.60" cy="790.20" rx="3.9" ry="3.8" fill="#000"/>
<ellipse cx="136.50" cy="787.40" rx="3.9" ry="3.8" fill="#000"/>
<path d="M171.50,686.10L175.40,693.10L167.60,693.10Z" fill="#000"/>
<path d="M183.30,686.90L187.20,693.90L179.40,693.90Z" fill="#000"/>
<path d="M183.30,699.00L187.20,706.00L179.40,706.00Z" fill="#000"/>
<path d="M195.20,697.10L199.10,704.10L191.30,704.10Z" fill="#000"/>
<path d="M171.50,709.50L175.40,716.50L167.60,716.50Z" fill="#000"/>
<path d="M183.30,715.60L187.20,722.60L179.40,722.60Z" fill="#000"/>
<path d="M195.20,709.50L199.10,716.50L191.30,716.50Z" fill="#000"/>
<path d="M183.30,741.20L187.20,748.20L179.40,748.20Z" fill="#000"/>
<text transform="translate(170.86,684.28) scale(1.2000,1)" style="font-family:'Liberation Sans', sans-serif;font-size:19px;stroke:#111;stroke-width:0.3px;" fill="#111">***</text>
<path d="M230.20,581.20L234.50,585.50L230.20,589.80L225.90,585.50Z" fill="#000"/>
<path d="M242.60,589.30L246.90,593.60L242.60,597.90L238.30,593.60Z" fill="#000"/>
<path d="M254.00,587.70L258.30,592.00L254.00,596.30L249.70,592.00Z" fill="#000"/>
<path d="M230.20,603.90L234.50,608.20L230.20,612.50L225.90,608.20Z" fill="#000"/>
<path d="M242.60,603.90L246.90,608.20L242.60,612.50L238.30,608.20Z" fill="#000"/>
<path d="M254.00,598.10L258.30,602.40L254.00,606.70L249.70,602.40Z" fill="#000"/>
<path d="M254.00,615.30L258.30,619.60L254.00,623.90L249.70,619.60Z" fill="#000"/>
<path d="M242.60,625.70L246.90,630.00L242.60,634.30L238.30,630.00Z" fill="#000"/>
<text transform="translate(225.66,580.08) scale(1.2000,1)" style="font-family:'Liberation Sans', sans-serif;font-size:19px;stroke:#111;stroke-width:0.3px;" fill="#111">***</text>
<path d="M301.20,589.30L305.50,593.60L301.20,597.90L296.90,593.60Z" fill="#000"/>
<path d="M301.20,600.70L305.50,605.00L301.20,609.30L296.90,605.00Z" fill="#000"/>
<path d="M313.30,598.10L317.60,602.40L313.30,606.70L309.00,602.40Z" fill="#000"/>
<path d="M301.20,615.30L305.50,619.60L301.20,623.90L296.90,619.60Z" fill="#000"/>
<path d="M301.20,627.40L305.50,631.70L301.20,636.00L296.90,631.70Z" fill="#000"/>
<path d="M288.90,647.90L293.20,652.20L288.90,656.50L284.60,652.20Z" fill="#000"/>
<path d="M301.20,648.60L305.50,652.90L301.20,657.20L296.90,652.90Z" fill="#000"/>
<path d="M301.20,664.90L305.50,669.20L301.20,673.50L296.90,669.20Z" fill="#000"/>
<text transform="translate(286.26,588.78) scale(1.2000,1)" style="font-family:'Liberation Sans', sans-serif;font-size:19px;stroke:#111;stroke-width:0.3px;" fill="#111">***</text>
<rect x="355.90" y="591.60" width="8.0" height="7.2" fill="#000"/>
<rect x="367.90" y="586.70" width="8.0" height="7.2" fill="#000"/>
<rect x="343.80" y="605.30" width="8.0" height="7.2" fill="#000"/>
<rect x="355.90" y="615.10" width="8.0" height="7.2" fill="#000"/>
<rect x="355.90" y="627.40" width="8.0" height="7.2" fill="#000"/>
<rect x="343.80" y="634.60" width="8.0" height="7.2" fill="#000"/>
<rect x="355.90" y="641.10" width="8.0" height="7.2" fill="#000"/>
<rect x="355.90" y="659.00" width="8.0" height="7.2" fill="#000"/>
<text transform="translate(340.06,584.58) scale(1.2000,1)" style="font-family:'Liberation Sans', sans-serif;font-size:19px;stroke:#111;stroke-width:0.3px;" fill="#111">***</text>
<rect x="414.50" y="610.20" width="8.0" height="7.2" fill="#000"/>
<rect x="402.50" y="623.20" width="8.0" height="7.2" fill="#000"/>
<rect x="414.50" y="629.10" width="8.0" height="7.2" fill="#000"/>
<rect x="414.50" y="640.50" width="8.0" height="7.2" fill="#000"/>
<rect x="414.50" y="671.10" width="8.0" height="7.2" fill="#000"/>
<rect x="402.50" y="677.00" width="8.0" height="7.2" fill="#000"/>
<rect x="426.60" y="677.00" width="8.0" height="7.2" fill="#000"/>
<rect x="414.50" y="686.70" width="8.0" height="7.2" fill="#000"/>
<text transform="translate(406.86,610.58) scale(1.2000,1)" style="font-family:'Liberation Sans', sans-serif;font-size:19px;stroke:#111;stroke-width:0.3px;" fill="#111">***</text>
<rect x="473.20" y="630.70" width="8.0" height="7.2" fill="#000"/>
<rect x="473.20" y="647.00" width="8.0" height="7.2" fill="#000"/>
<rect x="473.20" y="664.60" width="8.0" height="7.2" fill="#000"/>
<rect x="485.20" y="662.30" width="8.0" height="7.2" fill="#000"/>
<rect x="461.10" y="680.90" width="8.0" height="7.2" fill="#000"/>
<rect x="473.20" y="690.60" width="8.0" height="7.2" fill="#000"/>
<rect x="485.20" y="700.70" width="8.0" height="7.2" fill="#000"/>
<rect x="473.20" y="703.70" width="8.0" height="7.2" fill="#000"/>
<text transform="translate(463.86,631.18) scale(1.2000,1)" style="font-family:'Liberation Sans', sans-serif;font-size:19px;stroke:#111;stroke-width:0.3px;" fill="#111">***</text>
<rect x="519.80" y="696.50" width="8.0" height="7.2" fill="#000"/>
<rect x="531.80" y="701.40" width="8.0" height="7.2" fill="#000"/>
<rect x="543.90" y="700.70" width="8.0" height="7.2" fill="#000"/>
<rect x="519.80" y="723.20" width="8.0" height="7.2" fill="#000"/>
<rect x="543.90" y="721.60" width="8.0" height="7.2" fill="#000"/>
<rect x="531.80" y="730.70" width="8.0" height="7.2" fill="#000"/>
<rect x="543.90" y="749.30" width="8.0" height="7.2" fill="#000"/>
<rect x="531.80" y="753.50" width="8.0" height="7.2" fill="#000"/>
<text transform="translate(525.31,696.98) scale(1.2000,1)" style="font-family:'Liberation Sans', sans-serif;font-size:19px;stroke:#111;stroke-width:0.3px;" fill="#111">**</text>
<text transform="translate(643.44,478.30) scale(1.1067,1)" style="font-family:'Liberation Sans', sans-serif;font-size:23.5px;" fill="#1c1c1c">(D)</text>
<ellipse cx="707.40" cy="565.60" rx="3.9" ry="3.7" fill="#000"/>
<path d="M707.40,580.10L711.50,587.30L703.30,587.30Z" fill="#000"/>
<rect x="703.20" y="598.60" width="7.6" height="7.0" fill="#000"/>
<text transform="translate(737.12,570.00) scale(1.0910,1)" style="font-family:'Liberation Sans', sans-serif;font-size:12.5px;" fill="#1c1c1c">200mM Glucose + 1mg/ml insulin</text>
<text transform="translate(737.12,588.50) scale(1.0935,1)" style="font-family:'Liberation Sans', sans-serif;font-size:12.5px;" fill="#1c1c1c">200mM Glucose + 1mg/ml insulin + 44mM Aminoguaninine</text>
<text transform="translate(735.83,606.90) scale(1.0701,1)" style="font-family:'Liberation Sans', sans-serif;font-size:12.5px;" fill="#1c1c1c">200mM Glucose + 1mg/ml insulin + EEEC (  µg/ml)</text>
<line x1="693.40" y1="575.50" x2="693.40" y2="813.40" stroke="#3a3a3a" stroke-width="1.4"/>
<line x1="686.00" y1="812.80" x2="1008.60" y2="812.80" stroke="#3a3a3a" stroke-width="1.4"/>
<line x1="686.00" y1="812.80" x2="693.40" y2="812.80" stroke="#3a3a3a" stroke-width="1.4"/>
<text transform="translate(675.48,817.10) scale(1.1000,1)" style="font-family:'Liberation Sans', sans-serif;font-size:12.8px;" fill="#1c1c1c">0</text>
<line x1="686.00" y1="733.87" x2="693.40" y2="733.87" stroke="#3a3a3a" stroke-width="1.4"/>
<text transform="translate(667.66,738.16) scale(1.1000,1)" style="font-family:'Liberation Sans', sans-serif;font-size:12.8px;" fill="#1c1c1c">50</text>
<line x1="686.00" y1="654.93" x2="693.40" y2="654.93" stroke="#3a3a3a" stroke-width="1.4"/>
<text transform="translate(659.85,659.23) scale(1.1000,1)" style="font-family:'Liberation Sans', sans-serif;font-size:12.8px;" fill="#1c1c1c">100</text>
<line x1="686.00" y1="575.99" x2="693.40" y2="575.99" stroke="#3a3a3a" stroke-width="1.4"/>
<text transform="translate(659.85,580.29) scale(1.1000,1)" style="font-family:'Liberation Sans', sans-serif;font-size:12.8px;" fill="#1c1c1c">150</text>
<line x1="725.40" y1="812.80" x2="725.40" y2="820.40" stroke="#3a3a3a" stroke-width="1.4"/>
<text transform="translate(708.33,833.00) scale(1.1000,1)" style="font-family:'Liberation Sans', sans-serif;font-size:12.8px;" fill="#1c1c1c">None</text>
<line x1="789.00" y1="812.80" x2="789.00" y2="820.40" stroke="#3a3a3a" stroke-width="1.4"/>
<text transform="translate(771.93,833.00) scale(1.1000,1)" style="font-family:'Liberation Sans', sans-serif;font-size:12.8px;" fill="#1c1c1c">None</text>
<line x1="851.50" y1="812.80" x2="851.50" y2="820.40" stroke="#3a3a3a" stroke-width="1.4"/>
<text transform="translate(843.65,833.00) scale(1.1000,1)" style="font-family:'Liberation Sans', sans-serif;font-size:12.8px;" fill="#1c1c1c">50</text>
<line x1="914.70" y1="812.80" x2="914.70" y2="820.40" stroke="#3a3a3a" stroke-width="1.4"/>
<text transform="translate(902.70,833.00) scale(1.1000,1)" style="font-family:'Liberation Sans', sans-serif;font-size:12.8px;" fill="#1c1c1c">100</text>
<line x1="978.20" y1="812.80" x2="978.20" y2="820.40" stroke="#3a3a3a" stroke-width="1.4"/>
<text transform="translate(966.37,833.00) scale(1.1000,1)" style="font-family:'Liberation Sans', sans-serif;font-size:12.8px;" fill="#1c1c1c">200</text>
<text transform="translate(713.26,856.80) scale(1.1752,1)" style="font-family:'Liberation Sans', sans-serif;font-size:12.3px;font-weight:bold;" fill="#1c1c1c">Ethanol extract of</text>
<text transform="translate(843.80,856.80) scale(1.2353,1)" style="font-family:'Liberation Sans', sans-serif;font-size:12.3px;font-weight:bold;font-style:italic;" fill="#1c1c1c">E. citriodora</text>
<text transform="translate(939.14,856.80) scale(1.2348,1)" style="font-family:'Liberation Sans', sans-serif;font-size:12.3px;font-weight:bold;" fill="#1c1c1c">(µg/ml)</text>
<text transform="translate(628.00,698.70) rotate(-90)" text-anchor="middle" textLength="110.20" lengthAdjust="spacingAndGlyphs" style="font-family:'Liberation Sans', sans-serif;font-size:12.5px;font-weight:bold;" fill="#1c1c1c">Protein Glycation</text>
<text transform="translate(647.50,699.50) rotate(-90)" text-anchor="middle" textLength="180.60" lengthAdjust="spacingAndGlyphs" style="font-family:'Liberation Sans', sans-serif;font-size:12.5px;font-weight:bold;" fill="#1c1c1c">(expressed as % of control)</text>
<ellipse cx="712.90" cy="655.00" rx="4.0" ry="3.8" fill="#000"/>
<ellipse cx="731.10" cy="650.50" rx="4.0" ry="3.8" fill="#000"/>
<ellipse cx="724.70" cy="660.70" rx="4.0" ry="3.8" fill="#000"/>
<ellipse cx="736.80" cy="658.00" rx="4.0" ry="3.8" fill="#000"/>
<path d="M776.70,776.20L780.70,783.20L772.70,783.20Z" fill="#000"/>
<path d="M793.80,775.00L797.80,782.00L789.80,782.00Z" fill="#000"/>
<path d="M787.40,784.50L791.40,791.50L783.40,791.50Z" fill="#000"/>
<path d="M799.50,782.60L803.50,789.60L795.50,789.60Z" fill="#000"/>
<text transform="translate(774.76,774.38) scale(1.2000,1)" style="font-family:'Liberation Sans', sans-serif;font-size:19px;stroke:#111;stroke-width:0.3px;" fill="#111">***</text>
<rect x="834.80" y="649.50" width="7.8" height="7.2" fill="#000"/>
<rect x="847.00" y="645.70" width="7.8" height="7.2" fill="#000"/>
<rect x="847.00" y="659.00" width="7.8" height="7.2" fill="#000"/>
<rect x="859.50" y="656.00" width="7.8" height="7.2" fill="#000"/>
<rect x="898.30" y="659.00" width="7.8" height="7.2" fill="#000"/>
<rect x="910.80" y="666.60" width="7.8" height="7.2" fill="#000"/>
<rect x="923.00" y="684.90" width="7.8" height="7.2" fill="#000"/>
<rect x="910.80" y="690.60" width="7.8" height="7.2" fill="#000"/>
<text transform="translate(910.25,659.18) scale(1.2000,1)" style="font-family:'Liberation Sans', sans-serif;font-size:19px;stroke:#111;stroke-width:0.3px;" fill="#111">*</text>
<rect x="973.50" y="686.40" width="7.8" height="7.2" fill="#000"/>
<rect x="961.70" y="712.20" width="7.8" height="7.2" fill="#000"/>
<rect x="973.50" y="721.00" width="7.8" height="7.2" fill="#000"/>
<rect x="985.70" y="716.00" width="7.8" height="7.2" fill="#000"/>
<text transform="translate(970.41,686.88) scale(1.2000,1)" style="font-family:'Liberation Sans', sans-serif;font-size:19px;stroke:#111;stroke-width:0.3px;" fill="#111">**</text>
<text transform="translate(10.53,958.50) scale(1.1148,1)" style="font-family:'Liberation Sans', sans-serif;font-size:23.5px;" fill="#1c1c1c">(E)</text>
<ellipse cx="123.50" cy="923.90" rx="3.8" ry="3.6" fill="#000"/>
<rect x="119.70" y="938.30" width="7.6" height="7.0" fill="#000"/>
<text transform="translate(153.40,927.70) scale(1.2239,1)" style="font-family:'Liberation Sans', sans-serif;font-size:11.5px;" fill="#1c1c1c">Glucose alone</text>
<text transform="translate(153.43,946.30) scale(1.1687,1)" style="font-family:'Liberation Sans', sans-serif;font-size:11.5px;" fill="#1c1c1c">Glucose + EEEC (200 µg/ml)</text>
<line x1="106.40" y1="920.80" x2="106.40" y2="1224.80" stroke="#333" stroke-width="1.3"/>
<line x1="98.80" y1="1224.20" x2="645.00" y2="1224.20" stroke="#333" stroke-width="1.3"/>
<line x1="98.80" y1="1224.20" x2="106.40" y2="1224.20" stroke="#333" stroke-width="1.3"/>
<text transform="translate(69.74,1227.90) scale(1.8353,1)" style="font-family:'Liberation Sans', sans-serif;font-size:10.4px;" fill="#1c1c1c">0.0</text>
<line x1="98.80" y1="1173.70" x2="106.40" y2="1173.70" stroke="#333" stroke-width="1.3"/>
<text transform="translate(69.53,1177.40) scale(1.8565,1)" style="font-family:'Liberation Sans', sans-serif;font-size:10.4px;" fill="#1c1c1c">2.5</text>
<line x1="98.80" y1="1123.20" x2="106.40" y2="1123.20" stroke="#333" stroke-width="1.3"/>
<text transform="translate(69.74,1126.90) scale(1.8353,1)" style="font-family:'Liberation Sans', sans-serif;font-size:10.4px;" fill="#1c1c1c">5.0</text>
<line x1="98.80" y1="1072.70" x2="106.40" y2="1072.70" stroke="#333" stroke-width="1.3"/>
<text transform="translate(69.53,1076.40) scale(1.8565,1)" style="font-family:'Liberation Sans', sans-serif;font-size:10.4px;" fill="#1c1c1c">7.5</text>
<line x1="98.80" y1="1022.20" x2="106.40" y2="1022.20" stroke="#333" stroke-width="1.3"/>
<text transform="translate(69.47,1025.90) scale(1.3152,1)" style="font-family:'Liberation Sans', sans-serif;font-size:10.4px;" fill="#1c1c1c">10.0</text>
<line x1="98.80" y1="971.70" x2="106.40" y2="971.70" stroke="#333" stroke-width="1.3"/>
<text transform="translate(69.47,975.40) scale(1.3188,1)" style="font-family:'Liberation Sans', sans-serif;font-size:10.4px;" fill="#1c1c1c">12.5</text>
<line x1="98.80" y1="921.20" x2="106.40" y2="921.20" stroke="#333" stroke-width="1.3"/>
<text transform="translate(69.47,924.90) scale(1.3152,1)" style="font-family:'Liberation Sans', sans-serif;font-size:10.4px;" fill="#1c1c1c">15.0</text>
<text transform="translate(109.73,1241.80) scale(1.2040,1)" style="font-family:'Liberation Sans', sans-serif;font-size:11.8px;" fill="#1c1c1c">1.1mM</text>
<text transform="translate(175.84,1241.80) scale(1.1810,1)" style="font-family:'Liberation Sans', sans-serif;font-size:11.8px;" fill="#1c1c1c">5.6mM</text>
<text transform="translate(237.95,1241.80) scale(1.1921,1)" style="font-family:'Liberation Sans', sans-serif;font-size:11.8px;" fill="#1c1c1c">16.7mM</text>
<text transform="translate(310.26,1242.80) scale(1.1395,1)" style="font-family:'Liberation Sans', sans-serif;font-size:11.8px;" fill="#1c1c1c">5.6mM +</text>
<text transform="translate(306.13,1259.70) scale(1.2189,1)" style="font-family:'Liberation Sans', sans-serif;font-size:11.8px;" fill="#1c1c1c">Verapalim</text>
<text transform="translate(313.74,1275.40) scale(1.2138,1)" style="font-family:'Liberation Sans', sans-serif;font-size:11.8px;" fill="#1c1c1c">(50µM)</text>
<text transform="translate(381.27,1240.00) scale(1.1329,1)" style="font-family:'Liberation Sans', sans-serif;font-size:11.8px;" fill="#1c1c1c">5.6mM +</text>
<text transform="translate(380.68,1256.90) scale(1.1862,1)" style="font-family:'Liberation Sans', sans-serif;font-size:11.8px;" fill="#1c1c1c">Diazoxide</text>
<text transform="translate(384.53,1273.00) scale(1.2244,1)" style="font-family:'Liberation Sans', sans-serif;font-size:11.8px;" fill="#1c1c1c">(300µM)</text>
<text transform="translate(449.86,1239.60) scale(1.1484,1)" style="font-family:'Liberation Sans', sans-serif;font-size:11.8px;" fill="#1c1c1c">5.6mM +</text>
<text transform="translate(449.22,1257.00) scale(1.1070,1)" style="font-family:'Liberation Sans', sans-serif;font-size:11.8px;" fill="#1c1c1c">IBMX</text>
<text transform="translate(449.54,1274.30) scale(1.2150,1)" style="font-family:'Liberation Sans', sans-serif;font-size:11.8px;" fill="#1c1c1c">(200µM)</text>
<text transform="translate(511.96,1239.60) scale(1.1484,1)" style="font-family:'Liberation Sans', sans-serif;font-size:11.8px;" fill="#1c1c1c">5.6mM +</text>
<text transform="translate(513.23,1257.00) scale(1.1506,1)" style="font-family:'Liberation Sans', sans-serif;font-size:11.8px;" fill="#1c1c1c">Tolbutamide</text>
<text transform="translate(511.64,1274.30) scale(1.2150,1)" style="font-family:'Liberation Sans', sans-serif;font-size:11.8px;" fill="#1c1c1c">(200µM)</text>
<text transform="translate(587.90,1239.60) scale(1.1319,1)" style="font-family:'Liberation Sans', sans-serif;font-size:11.8px;" fill="#1c1c1c">16.7mM +</text>
<text transform="translate(602.09,1257.00) scale(1.1743,1)" style="font-family:'Liberation Sans', sans-serif;font-size:11.8px;" fill="#1c1c1c">KCl</text>
<text transform="translate(587.67,1274.30) scale(1.1793,1)" style="font-family:'Liberation Sans', sans-serif;font-size:11.8px;" fill="#1c1c1c">(30mM)</text>
<text transform="translate(340.43,1297.70) scale(1.2381,1)" style="font-family:'Liberation Sans', sans-serif;font-size:11.8px;font-weight:bold;" fill="#1c1c1c">Additions</text>
<text transform="translate(33.40,1075.30) rotate(-90)" text-anchor="middle" textLength="97.70" lengthAdjust="spacingAndGlyphs" style="font-family:'Liberation Sans', sans-serif;font-size:12.6px;font-weight:bold;" fill="#1c1c1c">Insulin release</text>
<text transform="translate(53.80,1074.70) rotate(-90)" text-anchor="middle" textLength="128.80" lengthAdjust="spacingAndGlyphs" style="font-family:'Liberation Sans', sans-serif;font-size:12.8px;font-weight:bold;" fill="#1c1c1c">(ng/10<tspan dy="-5" style="font-size:9.5px">6</tspan><tspan dy="5">cells/20 min)</tspan></text>
<ellipse cx="122.10" cy="1194.70" rx="3.6" ry="3.4" fill="#000"/>
<ellipse cx="128.50" cy="1195.90" rx="3.6" ry="3.4" fill="#000"/>
<ellipse cx="126.80" cy="1200.00" rx="3.6" ry="3.4" fill="#000"/>
<ellipse cx="125.60" cy="1203.50" rx="3.6" ry="3.4" fill="#000"/>
<ellipse cx="121.50" cy="1210.60" rx="3.6" ry="3.4" fill="#000"/>
<ellipse cx="127.90" cy="1211.20" rx="3.6" ry="3.4" fill="#000"/>
<ellipse cx="134.40" cy="1210.60" rx="3.6" ry="3.4" fill="#000"/>
<ellipse cx="125.00" cy="1211.80" rx="3.6" ry="3.4" fill="#000"/>
<ellipse cx="131.50" cy="1211.80" rx="3.6" ry="3.4" fill="#000"/>
<ellipse cx="128.50" cy="1206.00" rx="3.6" ry="3.4" fill="#000"/>
<text transform="translate(109.44,1192.86) scale(1.2500,1)" style="font-family:'Liberation Sans', sans-serif;font-size:18px;stroke:#111;stroke-width:0.3px;" fill="#111">***</text>
<rect x="140.70" y="1156.10" width="7.4" height="6.6" fill="#000"/>
<rect x="146.60" y="1160.80" width="7.4" height="6.6" fill="#000"/>
<rect x="140.70" y="1174.70" width="7.4" height="6.6" fill="#000"/>
<rect x="146.60" y="1174.70" width="7.4" height="6.6" fill="#000"/>
<rect x="152.30" y="1174.70" width="7.4" height="6.6" fill="#000"/>
<rect x="140.70" y="1181.20" width="7.4" height="6.6" fill="#000"/>
<rect x="146.60" y="1181.20" width="7.4" height="6.6" fill="#000"/>
<rect x="152.30" y="1181.20" width="7.4" height="6.6" fill="#000"/>
<text transform="translate(147.41,1156.66) scale(1.2500,1)" style="font-family:'Liberation Sans', sans-serif;font-size:18px;stroke:#111;stroke-width:0.3px;" fill="#111">*</text>
<text transform="translate(145.82,1132.00) scale(1.1000,1)" style="font-family:'Liberation Serif', serif;font-size:20px;" fill="#222">ϕ</text>
<text transform="translate(134.66,1112.15) scale(1.1700,1)" style="font-family:'Liberation Serif', serif;font-size:15px;" fill="#222">ΔΔΔ</text>
<ellipse cx="194.40" cy="1170.80" rx="3.6" ry="3.4" fill="#000"/>
<ellipse cx="200.90" cy="1170.40" rx="3.6" ry="3.4" fill="#000"/>
<ellipse cx="192.50" cy="1174.00" rx="3.6" ry="3.4" fill="#000"/>
<ellipse cx="188.50" cy="1180.60" rx="3.6" ry="3.4" fill="#000"/>
<ellipse cx="192.70" cy="1180.00" rx="3.6" ry="3.4" fill="#000"/>
<ellipse cx="198.00" cy="1179.00" rx="3.6" ry="3.4" fill="#000"/>
<ellipse cx="202.60" cy="1180.00" rx="3.6" ry="3.4" fill="#000"/>
<ellipse cx="193.20" cy="1183.50" rx="3.6" ry="3.4" fill="#000"/>
<ellipse cx="199.00" cy="1183.50" rx="3.6" ry="3.4" fill="#000"/>
<ellipse cx="188.50" cy="1198.20" rx="3.6" ry="3.4" fill="#000"/>
<ellipse cx="194.40" cy="1202.40" rx="3.6" ry="3.4" fill="#000"/>
<ellipse cx="197.90" cy="1195.30" rx="3.6" ry="3.4" fill="#000"/>
<ellipse cx="201.50" cy="1200.00" rx="3.6" ry="3.4" fill="#000"/>
<rect x="213.60" y="1123.80" width="7.4" height="6.6" fill="#000"/>
<rect x="213.70" y="1141.40" width="7.4" height="6.6" fill="#000"/>
<rect x="207.20" y="1150.20" width="7.4" height="6.6" fill="#000"/>
<rect x="207.20" y="1160.80" width="7.4" height="6.6" fill="#000"/>
<rect x="213.70" y="1159.10" width="7.4" height="6.6" fill="#000"/>
<rect x="219.50" y="1163.80" width="7.4" height="6.6" fill="#000"/>
<rect x="213.70" y="1167.30" width="7.4" height="6.6" fill="#000"/>
<rect x="219.30" y="1154.70" width="7.4" height="6.6" fill="#000"/>
<text transform="translate(203.24,1123.76) scale(1.2500,1)" style="font-family:'Liberation Sans', sans-serif;font-size:18px;stroke:#111;stroke-width:0.3px;" fill="#111">***</text>
<text transform="translate(198.86,1103.15) scale(1.1700,1)" style="font-family:'Liberation Serif', serif;font-size:15px;" fill="#222">ΔΔΔ</text>
<ellipse cx="261.50" cy="1118.40" rx="3.6" ry="3.4" fill="#000"/>
<ellipse cx="257.20" cy="1139.00" rx="3.6" ry="3.4" fill="#000"/>
<ellipse cx="264.80" cy="1136.80" rx="3.6" ry="3.4" fill="#000"/>
<ellipse cx="268.00" cy="1139.00" rx="3.6" ry="3.4" fill="#000"/>
<ellipse cx="260.40" cy="1143.40" rx="3.6" ry="3.4" fill="#000"/>
<ellipse cx="255.00" cy="1153.00" rx="3.6" ry="3.4" fill="#000"/>
<ellipse cx="261.50" cy="1154.60" rx="3.6" ry="3.4" fill="#000"/>
<ellipse cx="260.40" cy="1161.80" rx="3.6" ry="3.4" fill="#000"/>
<ellipse cx="256.00" cy="1171.60" rx="3.6" ry="3.4" fill="#000"/>
<ellipse cx="261.50" cy="1172.70" rx="3.6" ry="3.4" fill="#000"/>
<ellipse cx="268.00" cy="1172.20" rx="3.6" ry="3.4" fill="#000"/>
<ellipse cx="260.40" cy="1167.20" rx="3.6" ry="3.4" fill="#000"/>
<text transform="translate(245.04,1116.26) scale(1.2500,1)" style="font-family:'Liberation Sans', sans-serif;font-size:18px;stroke:#111;stroke-width:0.3px;" fill="#111">***</text>
<rect x="280.60" y="1066.60" width="7.4" height="6.6" fill="#000"/>
<rect x="280.60" y="1091.20" width="7.4" height="6.6" fill="#000"/>
<rect x="287.10" y="1102.00" width="7.4" height="6.6" fill="#000"/>
<rect x="274.50" y="1108.60" width="7.4" height="6.6" fill="#000"/>
<rect x="280.60" y="1109.70" width="7.4" height="6.6" fill="#000"/>
<rect x="280.60" y="1120.90" width="7.4" height="6.6" fill="#000"/>
<rect x="287.10" y="1119.40" width="7.4" height="6.6" fill="#000"/>
<rect x="274.50" y="1139.00" width="7.4" height="6.6" fill="#000"/>
<rect x="280.60" y="1140.10" width="7.4" height="6.6" fill="#000"/>
<rect x="287.10" y="1144.40" width="7.4" height="6.6" fill="#000"/>
<rect x="280.60" y="1151.30" width="7.4" height="6.6" fill="#000"/>
<text transform="translate(272.24,1067.96) scale(1.2500,1)" style="font-family:'Liberation Sans', sans-serif;font-size:18px;stroke:#111;stroke-width:0.3px;" fill="#111">***</text>
<text transform="translate(268.02,1042.40) scale(1.1000,1)" style="font-family:'Liberation Serif', serif;font-size:20px;" fill="#222">ϕϕϕ</text>
<text transform="translate(268.46,1020.05) scale(1.1700,1)" style="font-family:'Liberation Serif', serif;font-size:15px;" fill="#222">ΔΔΔ</text>
<ellipse cx="321.00" cy="1188.50" rx="3.6" ry="3.4" fill="#000"/>
<ellipse cx="325.00" cy="1188.50" rx="3.6" ry="3.4" fill="#000"/>
<ellipse cx="329.00" cy="1188.50" rx="3.6" ry="3.4" fill="#000"/>
<ellipse cx="333.00" cy="1188.50" rx="3.6" ry="3.4" fill="#000"/>
<ellipse cx="336.50" cy="1188.50" rx="3.6" ry="3.4" fill="#000"/>
<ellipse cx="328.80" cy="1201.60" rx="3.6" ry="3.4" fill="#000"/>
<rect x="343.60" y="1139.00" width="7.4" height="6.6" fill="#000"/>
<rect x="353.40" y="1140.10" width="7.4" height="6.6" fill="#000"/>
<rect x="341.40" y="1146.60" width="7.4" height="6.6" fill="#000"/>
<rect x="341.40" y="1153.10" width="7.4" height="6.6" fill="#000"/>
<rect x="349.00" y="1160.70" width="7.4" height="6.6" fill="#000"/>
<rect x="353.40" y="1159.60" width="7.4" height="6.6" fill="#000"/>
<rect x="341.40" y="1172.70" width="7.4" height="6.6" fill="#000"/>
<rect x="347.90" y="1173.70" width="7.4" height="6.6" fill="#000"/>
<rect x="346.80" y="1193.30" width="7.4" height="6.6" fill="#000"/>
<rect x="353.40" y="1193.30" width="7.4" height="6.6" fill="#000"/>
<text transform="translate(348.31,1139.26) scale(1.2500,1)" style="font-family:'Liberation Sans', sans-serif;font-size:18px;stroke:#111;stroke-width:0.3px;" fill="#111">*</text>
<text transform="translate(346.44,1113.75) scale(1.1700,1)" style="font-family:'Liberation Serif', serif;font-size:15px;" fill="#222">Δ</text>
<ellipse cx="389.60" cy="1169.00" rx="3.6" ry="3.4" fill="#000"/>
<ellipse cx="395.50" cy="1175.90" rx="3.6" ry="3.4" fill="#000"/>
<ellipse cx="389.60" cy="1192.20" rx="3.6" ry="3.4" fill="#000"/>
<ellipse cx="395.10" cy="1200.90" rx="3.6" ry="3.4" fill="#000"/>
<ellipse cx="401.60" cy="1200.90" rx="3.6" ry="3.4" fill="#000"/>
<rect x="408.70" y="1156.30" width="7.4" height="6.6" fill="#000"/>
<rect x="419.60" y="1156.30" width="7.4" height="6.6" fill="#000"/>
<rect x="408.70" y="1163.70" width="7.4" height="6.6" fill="#000"/>
<rect x="415.20" y="1170.50" width="7.4" height="6.6" fill="#000"/>
<rect x="419.60" y="1172.70" width="7.4" height="6.6" fill="#000"/>
<rect x="407.70" y="1177.00" width="7.4" height="6.6" fill="#000"/>
<rect x="414.20" y="1177.00" width="7.4" height="6.6" fill="#000"/>
<rect x="419.60" y="1182.40" width="7.4" height="6.6" fill="#000"/>
<rect x="414.20" y="1183.50" width="7.4" height="6.6" fill="#000"/>
<text transform="translate(412.81,1155.36) scale(1.2500,1)" style="font-family:'Liberation Sans', sans-serif;font-size:18px;stroke:#111;stroke-width:0.3px;" fill="#111">*</text>
<text transform="translate(411.43,1130.40) scale(1.1000,1)" style="font-family:'Liberation Serif', serif;font-size:20px;" fill="#222">ϕ</text>
<text transform="translate(411.54,1110.85) scale(1.1700,1)" style="font-family:'Liberation Serif', serif;font-size:15px;" fill="#222">Δ</text>
<ellipse cx="468.70" cy="1077.30" rx="3.6" ry="3.4" fill="#000"/>
<ellipse cx="462.60" cy="1080.70" rx="3.6" ry="3.4" fill="#000"/>
<ellipse cx="460.60" cy="1102.10" rx="3.6" ry="3.4" fill="#000"/>
<ellipse cx="466.70" cy="1105.20" rx="3.6" ry="3.4" fill="#000"/>
<ellipse cx="456.50" cy="1108.20" rx="3.6" ry="3.4" fill="#000"/>
<ellipse cx="461.60" cy="1108.90" rx="3.6" ry="3.4" fill="#000"/>
<ellipse cx="469.70" cy="1106.20" rx="3.6" ry="3.4" fill="#000"/>
<ellipse cx="456.50" cy="1123.10" rx="3.6" ry="3.4" fill="#000"/>
<ellipse cx="462.60" cy="1130.60" rx="3.6" ry="3.4" fill="#000"/>
<ellipse cx="468.70" cy="1128.60" rx="3.6" ry="3.4" fill="#000"/>
<text transform="translate(446.34,1073.36) scale(1.2500,1)" style="font-family:'Liberation Sans', sans-serif;font-size:18px;stroke:#111;stroke-width:0.3px;" fill="#111">***</text>
<rect x="481.00" y="972.40" width="7.4" height="6.6" fill="#000"/>
<rect x="474.10" y="981.40" width="7.4" height="6.6" fill="#000"/>
<rect x="481.00" y="986.30" width="7.4" height="6.6" fill="#000"/>
<rect x="487.00" y="1005.20" width="7.4" height="6.6" fill="#000"/>
<rect x="481.00" y="1009.20" width="7.4" height="6.6" fill="#000"/>
<rect x="474.10" y="1029.10" width="7.4" height="6.6" fill="#000"/>
<rect x="481.00" y="1035.10" width="7.4" height="6.6" fill="#000"/>
<rect x="481.00" y="1052.00" width="7.4" height="6.6" fill="#000"/>
<text transform="translate(471.54,973.56) scale(1.2500,1)" style="font-family:'Liberation Sans', sans-serif;font-size:18px;stroke:#111;stroke-width:0.3px;" fill="#111">***</text>
<text transform="translate(467.32,950.70) scale(1.1000,1)" style="font-family:'Liberation Serif', serif;font-size:20px;" fill="#222">ϕϕϕ</text>
<text transform="translate(466.46,931.35) scale(1.1700,1)" style="font-family:'Liberation Serif', serif;font-size:15px;" fill="#222">ΔΔΔ</text>
<ellipse cx="529.40" cy="1125.10" rx="3.6" ry="3.4" fill="#000"/>
<ellipse cx="532.60" cy="1139.50" rx="3.6" ry="3.4" fill="#000"/>
<ellipse cx="525.60" cy="1143.80" rx="3.6" ry="3.4" fill="#000"/>
<ellipse cx="529.80" cy="1145.90" rx="3.6" ry="3.4" fill="#000"/>
<ellipse cx="534.90" cy="1144.90" rx="3.6" ry="3.4" fill="#000"/>
<ellipse cx="529.40" cy="1162.20" rx="3.6" ry="3.4" fill="#000"/>
<ellipse cx="535.50" cy="1159.20" rx="3.6" ry="3.4" fill="#000"/>
<ellipse cx="523.00" cy="1145.00" rx="3.6" ry="3.4" fill="#000"/>
<text transform="translate(515.64,1122.26) scale(1.2500,1)" style="font-family:'Liberation Sans', sans-serif;font-size:18px;stroke:#111;stroke-width:0.3px;" fill="#111">***</text>
<rect x="542.20" y="993.70" width="7.4" height="6.6" fill="#000"/>
<rect x="547.70" y="1004.30" width="7.4" height="6.6" fill="#000"/>
<rect x="547.70" y="1025.70" width="7.4" height="6.6" fill="#000"/>
<rect x="541.80" y="1045.10" width="7.4" height="6.6" fill="#000"/>
<rect x="547.70" y="1044.10" width="7.4" height="6.6" fill="#000"/>
<rect x="553.70" y="1047.10" width="7.4" height="6.6" fill="#000"/>
<rect x="547.70" y="1050.00" width="7.4" height="6.6" fill="#000"/>
<rect x="547.70" y="1064.00" width="7.4" height="6.6" fill="#000"/>
<text transform="translate(538.24,994.66) scale(1.2500,1)" style="font-family:'Liberation Sans', sans-serif;font-size:18px;stroke:#111;stroke-width:0.3px;" fill="#111">***</text>
<text transform="translate(529.96,971.21) scale(1.1500,1)" style="font-family:'Liberation Serif', serif;font-size:22.5px;" fill="#222">ϕϕϕ</text>
<text transform="translate(537.68,947.85) scale(1.1700,1)" style="font-family:'Liberation Serif', serif;font-size:15px;" fill="#222">ΔΔ</text>
<ellipse cx="596.00" cy="1055.90" rx="3.6" ry="3.4" fill="#000"/>
<ellipse cx="596.00" cy="1078.70" rx="3.6" ry="3.4" fill="#000"/>
<ellipse cx="602.00" cy="1077.70" rx="3.6" ry="3.4" fill="#000"/>
<ellipse cx="590.00" cy="1088.90" rx="3.6" ry="3.4" fill="#000"/>
<ellipse cx="596.00" cy="1092.60" rx="3.6" ry="3.4" fill="#000"/>
<ellipse cx="602.00" cy="1083.80" rx="3.6" ry="3.4" fill="#000"/>
<ellipse cx="596.00" cy="1112.30" rx="3.6" ry="3.4" fill="#000"/>
<text transform="translate(582.04,1054.36) scale(1.2500,1)" style="font-family:'Liberation Sans', sans-serif;font-size:18px;stroke:#111;stroke-width:0.3px;" fill="#111">***</text>
<rect x="612.40" y="970.40" width="7.4" height="6.6" fill="#000"/>
<rect x="621.40" y="970.40" width="7.4" height="6.6" fill="#000"/>
<rect x="608.50" y="982.40" width="7.4" height="6.6" fill="#000"/>
<rect x="615.40" y="983.30" width="7.4" height="6.6" fill="#000"/>
<rect x="612.30" y="992.30" width="7.4" height="6.6" fill="#000"/>
<rect x="608.50" y="1004.20" width="7.4" height="6.6" fill="#000"/>
<rect x="615.40" y="1004.20" width="7.4" height="6.6" fill="#000"/>
<rect x="621.40" y="1005.20" width="7.4" height="6.6" fill="#000"/>
<rect x="615.40" y="1008.20" width="7.4" height="6.6" fill="#000"/>
<rect x="614.40" y="1021.20" width="7.4" height="6.6" fill="#000"/>
<text transform="translate(608.94,972.76) scale(1.2500,1)" style="font-family:'Liberation Sans', sans-serif;font-size:18px;stroke:#111;stroke-width:0.3px;" fill="#111">***</text>
<text transform="translate(603.72,949.10) scale(1.1000,1)" style="font-family:'Liberation Serif', serif;font-size:20px;" fill="#222">ϕϕϕ</text>
<text transform="translate(603.16,931.35) scale(1.1700,1)" style="font-family:'Liberation Serif', serif;font-size:15px;" fill="#222">ΔΔΔ</text>
<text transform="translate(828.74,973.60) scale(1.1090,1)" style="font-family:'Liberation Sans', sans-serif;font-size:23.5px;" fill="#1c1c1c">(F)</text>
<ellipse cx="885.70" cy="1043.40" rx="3.4" ry="3.2" fill="#000"/>
<rect x="882.40" y="1055.60" width="6.6" height="6.0" fill="#000"/>
<text transform="translate(911.31,1046.80) scale(1.1569,1)" style="font-family:'Liberation Sans', sans-serif;font-size:10.5px;" fill="#1c1c1c">5.6mM Glucose</text>
<text transform="translate(911.33,1062.40) scale(1.1257,1)" style="font-family:'Liberation Sans', sans-serif;font-size:10.5px;" fill="#1c1c1c">5.6mM Glucose + EEEC ( µg/ml)</text>
<line x1="868.30" y1="1053.40" x2="868.30" y2="1256.50" stroke="#444" stroke-width="1.25"/>
<line x1="862.50" y1="1255.90" x2="1092.00" y2="1255.90" stroke="#444" stroke-width="1.25"/>
<line x1="862.50" y1="1255.90" x2="868.30" y2="1255.90" stroke="#444" stroke-width="1.25"/>
<text transform="translate(842.77,1259.60) scale(1.2674,1)" style="font-family:'Liberation Sans', sans-serif;font-size:10.5px;" fill="#1c1c1c">0.0</text>
<line x1="862.50" y1="1154.80" x2="868.30" y2="1154.80" stroke="#444" stroke-width="1.25"/>
<text transform="translate(842.63,1158.50) scale(1.2821,1)" style="font-family:'Liberation Sans', sans-serif;font-size:10.5px;" fill="#1c1c1c">2.5</text>
<line x1="862.50" y1="1053.70" x2="868.30" y2="1053.70" stroke="#444" stroke-width="1.25"/>
<text transform="translate(842.77,1057.40) scale(1.2674,1)" style="font-family:'Liberation Sans', sans-serif;font-size:10.5px;" fill="#1c1c1c">5.0</text>
<text transform="translate(921.9,1274.7) scale(1.15,1)" style="font-family:'Liberation Sans', sans-serif;font-size:10.5px;" fill="#1c1c1c">Ca<tspan dy="-4.5" style="font-size:7.5px">2+</tspan></text>
<text transform="translate(1015.0,1274.7) scale(1.22,1)" style="font-family:'Liberation Sans', sans-serif;font-size:10.5px;" fill="#1c1c1c">Ca<tspan dy="-4.5" style="font-size:7.5px">2+</tspan><tspan dy="4.5"> free</tspan></text>
<text transform="translate(949.07,1294.10) scale(1.2101,1)" style="font-family:'Liberation Sans', sans-serif;font-size:10.8px;font-weight:bold;" fill="#1c1c1c">Additions</text>
<text transform="translate(800.00,1157.50) rotate(-90)" text-anchor="middle" textLength="87.50" lengthAdjust="spacingAndGlyphs" style="font-family:'Liberation Sans', sans-serif;font-size:11px;font-weight:bold;" fill="#1c1c1c">Insulin release</text>
<text transform="translate(820.00,1157.40) rotate(-90)" text-anchor="middle" textLength="115.80" lengthAdjust="spacingAndGlyphs" style="font-family:'Liberation Sans', sans-serif;font-size:10.8px;font-weight:bold;" fill="#1c1c1c">(ng/10<tspan dy="-3.5" style="font-size:7.5px">6</tspan><tspan dy="3.5">cells/20 min)</tspan></text>
<ellipse cx="896.90" cy="1164.60" rx="3.4" ry="3.2" fill="#000"/>
<ellipse cx="902.30" cy="1163.20" rx="3.4" ry="3.2" fill="#000"/>
<ellipse cx="912.80" cy="1162.60" rx="3.4" ry="3.2" fill="#000"/>
<ellipse cx="912.80" cy="1167.60" rx="3.4" ry="3.2" fill="#000"/>
<ellipse cx="891.50" cy="1171.20" rx="3.4" ry="3.2" fill="#000"/>
<ellipse cx="902.30" cy="1174.00" rx="3.4" ry="3.2" fill="#000"/>
<ellipse cx="902.30" cy="1198.50" rx="3.4" ry="3.2" fill="#000"/>
<ellipse cx="912.80" cy="1204.40" rx="3.4" ry="3.2" fill="#000"/>
<ellipse cx="891.50" cy="1208.00" rx="3.4" ry="3.2" fill="#000"/>
<ellipse cx="902.30" cy="1212.00" rx="3.4" ry="3.2" fill="#000"/>
<ellipse cx="896.90" cy="1217.00" rx="3.4" ry="3.2" fill="#000"/>
<ellipse cx="907.80" cy="1217.80" rx="3.4" ry="3.2" fill="#000"/>
<ellipse cx="891.50" cy="1220.00" rx="3.4" ry="3.2" fill="#000"/>
<ellipse cx="912.80" cy="1221.30" rx="3.4" ry="3.2" fill="#000"/>
<ellipse cx="902.30" cy="1225.30" rx="3.4" ry="3.2" fill="#000"/>
<rect x="943.30" y="1099.30" width="6.6" height="6.0" fill="#000"/>
<rect x="943.30" y="1113.80" width="6.6" height="6.0" fill="#000"/>
<rect x="943.30" y="1123.80" width="6.6" height="6.0" fill="#000"/>
<rect x="954.30" y="1122.40" width="6.6" height="6.0" fill="#000"/>
<rect x="933.40" y="1134.70" width="6.6" height="6.0" fill="#000"/>
<rect x="938.40" y="1133.10" width="6.6" height="6.0" fill="#000"/>
<rect x="954.30" y="1133.30" width="6.6" height="6.0" fill="#000"/>
<rect x="943.30" y="1140.70" width="6.6" height="6.0" fill="#000"/>
<rect x="943.30" y="1151.10" width="6.6" height="6.0" fill="#000"/>
<text transform="translate(935.83,1100.10) scale(1.1500,1)" style="font-family:'Liberation Sans', sans-serif;font-size:17.5px;stroke:#111;stroke-width:0.3px;" fill="#111">***</text>
<ellipse cx="1003.00" cy="1186.50" rx="3.4" ry="3.2" fill="#000"/>
<ellipse cx="1013.70" cy="1192.50" rx="3.4" ry="3.2" fill="#000"/>
<ellipse cx="1003.00" cy="1203.40" rx="3.4" ry="3.2" fill="#000"/>
<ellipse cx="1013.70" cy="1207.40" rx="3.4" ry="3.2" fill="#000"/>
<ellipse cx="1023.70" cy="1207.40" rx="3.4" ry="3.2" fill="#000"/>
<ellipse cx="1023.70" cy="1211.40" rx="3.4" ry="3.2" fill="#000"/>
<ellipse cx="1003.00" cy="1217.40" rx="3.4" ry="3.2" fill="#000"/>
<ellipse cx="1013.70" cy="1220.40" rx="3.4" ry="3.2" fill="#000"/>
<ellipse cx="1019.30" cy="1223.30" rx="3.4" ry="3.2" fill="#000"/>
<ellipse cx="1003.00" cy="1227.30" rx="3.4" ry="3.2" fill="#000"/>
<ellipse cx="1013.70" cy="1230.90" rx="3.4" ry="3.2" fill="#000"/>
<ellipse cx="1023.70" cy="1228.30" rx="3.4" ry="3.2" fill="#000"/>
<text transform="translate(1008.98,1181.70) scale(1.1500,1)" style="font-family:'Liberation Sans', sans-serif;font-size:17.5px;stroke:#111;stroke-width:0.3px;" fill="#111">*</text>
<rect x="1055.40" y="1134.30" width="6.6" height="6.0" fill="#000"/>
<rect x="1044.50" y="1152.30" width="6.6" height="6.0" fill="#000"/>
<rect x="1055.40" y="1152.30" width="6.6" height="6.0" fill="#000"/>
<rect x="1065.80" y="1158.60" width="6.6" height="6.0" fill="#000"/>
<rect x="1055.40" y="1166.60" width="6.6" height="6.0" fill="#000"/>
<rect x="1055.40" y="1180.10" width="6.6" height="6.0" fill="#000"/>
<rect x="1055.40" y="1193.10" width="6.6" height="6.0" fill="#000"/>
<text transform="translate(1054.78,1134.50) scale(1.1500,1)" style="font-family:'Liberation Sans', sans-serif;font-size:17.5px;stroke:#111;stroke-width:0.3px;" fill="#111">*</text>
<text transform="translate(1043.02,1114.53) scale(1.2500,1)" style="font-family:'Liberation Serif', serif;font-size:12.5px;" fill="#222">ΔΔΔ</text>
<text transform="translate(1054.06,1095.73) scale(1.1000,1)" style="font-family:'Liberation Serif', serif;font-size:14px;" fill="#222">ϕ</text>
</svg>
</body></html>
